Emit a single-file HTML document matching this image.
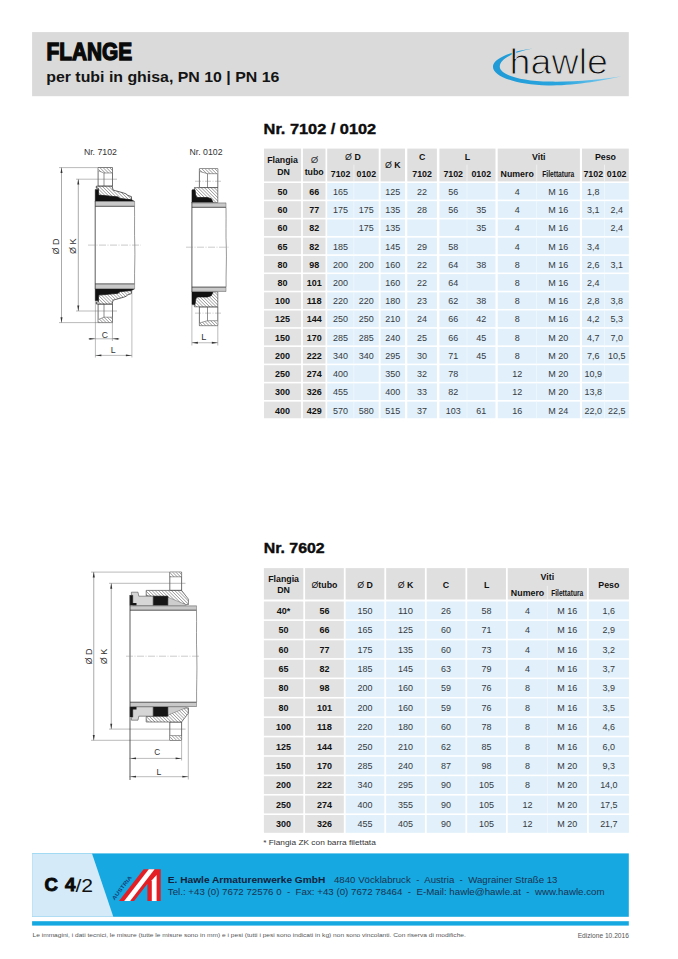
<!DOCTYPE html>
<html><head><meta charset="utf-8"><title>Flange</title>
<style>
html,body{margin:0;padding:0;background:#fff;}
body{width:678px;height:959px;overflow:hidden;position:relative;}
svg{position:absolute;left:0;top:0;display:block;}
text{font-family:"Liberation Sans", Arial, Helvetica, sans-serif;}
</style></head><body>
<svg width="678" height="959" viewBox="0 0 678 959">
<defs>
<linearGradient id="swg" x1="490" y1="0" x2="622" y2="0" gradientUnits="userSpaceOnUse"><stop offset="0" stop-color="#1f9ad6"/><stop offset="0.55" stop-color="#2aa5de"/><stop offset="1" stop-color="#8dd2f2"/></linearGradient>
<pattern id="hatch" patternUnits="userSpaceOnUse" width="2.3" height="2.3" patternTransform="rotate(-45)">
<rect width="2.3" height="2.3" fill="#fff"/><line x1="0.3" y1="0" x2="0.3" y2="2.3" stroke="#666" stroke-width="0.55"/></pattern>
<pattern id="hatchm" patternUnits="userSpaceOnUse" width="2.3" height="2.3" patternTransform="rotate(45)">
<rect width="2.3" height="2.3" fill="#fff"/><line x1="0.3" y1="0" x2="0.3" y2="2.3" stroke="#666" stroke-width="0.55"/></pattern>
<pattern id="hatchgm" patternUnits="userSpaceOnUse" width="2.2" height="2.2" patternTransform="rotate(45)">
<rect width="2.2" height="2.2" fill="#c8c8c8"/><line x1="0" y1="0" x2="0" y2="2.2" stroke="#8f8f8f" stroke-width="0.5"/></pattern>
<pattern id="hatchg" patternUnits="userSpaceOnUse" width="2.2" height="2.2" patternTransform="rotate(-45)">
<rect width="2.2" height="2.2" fill="#c8c8c8"/><line x1="0" y1="0" x2="0" y2="2.2" stroke="#8f8f8f" stroke-width="0.5"/></pattern>
</defs>
<rect x="32.10" y="32.10" width="596.70" height="64.10" fill="#dadada" />
<text x="46.50" y="60.30" font-size="24.7" fill="#0a0a0a" font-weight="bold" textLength="85.6" lengthAdjust="spacingAndGlyphs" stroke="#0a0a0a" stroke-width="1.4">FLANGE</text>
<text x="46.20" y="82.30" font-size="14.8" fill="#141414" font-weight="bold" textLength="233.2" lengthAdjust="spacingAndGlyphs">per tubi in ghisa, PN 10 | PN 16</text>
<path d="M533,48.6 C512,51 494,58 493,66 C492,76 515,84.8 548,85.4 C575,86 605,80 621.5,76.3 C603,79.5 576,82 550,81.6 C520,81 500.5,75 499.8,67 C499.2,59 514,52 533,48.6 Z" fill="url(#swg)"/>
<text x="509.60" y="73.60" font-size="34.4" fill="#111" textLength="98.4" lengthAdjust="spacingAndGlyphs" stroke="#dadada" stroke-width="1.0">hawle</text>
<text x="263.60" y="133.60" font-size="14.7" fill="#0d0d0d" font-weight="bold" textLength="112.6" lengthAdjust="spacingAndGlyphs" stroke="#0d0d0d" stroke-width="0.4">Nr. 7102 / 0102</text>
<text x="263.70" y="553.30" font-size="14.7" fill="#0d0d0d" font-weight="bold" textLength="61.0" lengthAdjust="spacingAndGlyphs" stroke="#0d0d0d" stroke-width="0.4">Nr. 7602</text>
<rect x="264.00" y="148.60" width="37.10" height="32.80" fill="#dfdfdf" />
<rect x="302.90" y="148.60" width="22.60" height="32.80" fill="#dfdfdf" />
<rect x="327.20" y="148.60" width="51.50" height="32.80" fill="#dfdfdf" />
<rect x="380.60" y="148.60" width="24.40" height="32.80" fill="#dfdfdf" />
<rect x="407.30" y="148.60" width="29.60" height="32.80" fill="#dfdfdf" />
<rect x="439.40" y="148.60" width="56.10" height="32.80" fill="#dfdfdf" />
<rect x="497.70" y="148.60" width="82.20" height="32.80" fill="#dfdfdf" />
<rect x="582.00" y="148.60" width="46.80" height="32.80" fill="#dfdfdf" />
<rect x="353.40" y="164.6" width="1" height="16.80" fill="#ffffff" fill-opacity="0.5"/>
<rect x="466.50" y="164.6" width="1" height="16.80" fill="#ffffff" fill-opacity="0.5"/>
<rect x="536.20" y="164.6" width="1" height="16.80" fill="#ffffff" fill-opacity="0.5"/>
<rect x="604.00" y="164.6" width="1" height="16.80" fill="#ffffff" fill-opacity="0.5"/>
<rect x="264.00" y="183.00" width="37.10" height="16.60" fill="#e2e2e2" />
<rect x="302.90" y="183.00" width="22.60" height="16.60" fill="#e2e2e2" />
<rect x="327.20" y="183.00" width="51.50" height="16.60" fill="#e1f0fb" />
<rect x="380.60" y="183.00" width="24.40" height="16.60" fill="#e1f0fb" />
<rect x="407.30" y="183.00" width="29.60" height="16.60" fill="#e1f0fb" />
<rect x="439.40" y="183.00" width="56.10" height="16.60" fill="#e1f0fb" />
<rect x="497.70" y="183.00" width="82.20" height="16.60" fill="#e1f0fb" />
<rect x="582.00" y="183.00" width="46.80" height="16.60" fill="#e1f0fb" />
<rect x="353.50" y="183.00" width="0.8" height="16.6" fill="#ffffff" fill-opacity="0.55"/>
<rect x="466.60" y="183.00" width="0.8" height="16.6" fill="#ffffff" fill-opacity="0.55"/>
<rect x="536.30" y="183.00" width="0.8" height="16.6" fill="#ffffff" fill-opacity="0.55"/>
<rect x="604.10" y="183.00" width="0.8" height="16.6" fill="#ffffff" fill-opacity="0.55"/>
<text x="282.55" y="194.90" font-size="9.4" fill="#111" font-weight="bold" text-anchor="middle" textLength="9.99" lengthAdjust="spacingAndGlyphs">50</text>
<text x="314.20" y="194.90" font-size="9.4" fill="#111" font-weight="bold" text-anchor="middle" textLength="9.99" lengthAdjust="spacingAndGlyphs">66</text>
<text x="340.55" y="194.90" font-size="9.4" fill="#353a40" text-anchor="middle" textLength="14.98" lengthAdjust="spacingAndGlyphs">165</text>
<text x="392.80" y="194.90" font-size="9.4" fill="#353a40" text-anchor="middle" textLength="14.98" lengthAdjust="spacingAndGlyphs">125</text>
<text x="422.10" y="194.90" font-size="9.4" fill="#353a40" text-anchor="middle" textLength="9.99" lengthAdjust="spacingAndGlyphs">22</text>
<text x="453.20" y="194.90" font-size="9.4" fill="#353a40" text-anchor="middle" textLength="9.99" lengthAdjust="spacingAndGlyphs">56</text>
<text x="517.20" y="194.90" font-size="9.4" fill="#353a40" text-anchor="middle" textLength="4.99" lengthAdjust="spacingAndGlyphs">4</text>
<text x="558.30" y="194.90" font-size="9.4" fill="#353a40" text-anchor="middle" textLength="19.96" lengthAdjust="spacingAndGlyphs">M 16</text>
<text x="593.25" y="194.90" font-size="9.4" fill="#353a40" text-anchor="middle" textLength="12.48" lengthAdjust="spacingAndGlyphs">1,8</text>
<rect x="264.00" y="201.22" width="37.10" height="16.60" fill="#e2e2e2" />
<rect x="302.90" y="201.22" width="22.60" height="16.60" fill="#e2e2e2" />
<rect x="327.20" y="201.22" width="51.50" height="16.60" fill="#e1f0fb" />
<rect x="380.60" y="201.22" width="24.40" height="16.60" fill="#e1f0fb" />
<rect x="407.30" y="201.22" width="29.60" height="16.60" fill="#e1f0fb" />
<rect x="439.40" y="201.22" width="56.10" height="16.60" fill="#e1f0fb" />
<rect x="497.70" y="201.22" width="82.20" height="16.60" fill="#e1f0fb" />
<rect x="582.00" y="201.22" width="46.80" height="16.60" fill="#e1f0fb" />
<rect x="353.50" y="201.22" width="0.8" height="16.6" fill="#ffffff" fill-opacity="0.55"/>
<rect x="466.60" y="201.22" width="0.8" height="16.6" fill="#ffffff" fill-opacity="0.55"/>
<rect x="536.30" y="201.22" width="0.8" height="16.6" fill="#ffffff" fill-opacity="0.55"/>
<rect x="604.10" y="201.22" width="0.8" height="16.6" fill="#ffffff" fill-opacity="0.55"/>
<text x="282.55" y="213.12" font-size="9.4" fill="#111" font-weight="bold" text-anchor="middle" textLength="9.99" lengthAdjust="spacingAndGlyphs">60</text>
<text x="314.20" y="213.12" font-size="9.4" fill="#111" font-weight="bold" text-anchor="middle" textLength="9.99" lengthAdjust="spacingAndGlyphs">77</text>
<text x="340.55" y="213.12" font-size="9.4" fill="#353a40" text-anchor="middle" textLength="14.98" lengthAdjust="spacingAndGlyphs">175</text>
<text x="366.30" y="213.12" font-size="9.4" fill="#353a40" text-anchor="middle" textLength="14.98" lengthAdjust="spacingAndGlyphs">175</text>
<text x="392.80" y="213.12" font-size="9.4" fill="#353a40" text-anchor="middle" textLength="14.98" lengthAdjust="spacingAndGlyphs">135</text>
<text x="422.10" y="213.12" font-size="9.4" fill="#353a40" text-anchor="middle" textLength="9.99" lengthAdjust="spacingAndGlyphs">28</text>
<text x="453.20" y="213.12" font-size="9.4" fill="#353a40" text-anchor="middle" textLength="9.99" lengthAdjust="spacingAndGlyphs">56</text>
<text x="481.25" y="213.12" font-size="9.4" fill="#353a40" text-anchor="middle" textLength="9.99" lengthAdjust="spacingAndGlyphs">35</text>
<text x="517.20" y="213.12" font-size="9.4" fill="#353a40" text-anchor="middle" textLength="4.99" lengthAdjust="spacingAndGlyphs">4</text>
<text x="558.30" y="213.12" font-size="9.4" fill="#353a40" text-anchor="middle" textLength="19.96" lengthAdjust="spacingAndGlyphs">M 16</text>
<text x="593.25" y="213.12" font-size="9.4" fill="#353a40" text-anchor="middle" textLength="12.48" lengthAdjust="spacingAndGlyphs">3,1</text>
<text x="616.65" y="213.12" font-size="9.4" fill="#353a40" text-anchor="middle" textLength="12.48" lengthAdjust="spacingAndGlyphs">2,4</text>
<rect x="264.00" y="219.44" width="37.10" height="16.60" fill="#e2e2e2" />
<rect x="302.90" y="219.44" width="22.60" height="16.60" fill="#e2e2e2" />
<rect x="327.20" y="219.44" width="51.50" height="16.60" fill="#e1f0fb" />
<rect x="380.60" y="219.44" width="24.40" height="16.60" fill="#e1f0fb" />
<rect x="407.30" y="219.44" width="29.60" height="16.60" fill="#e1f0fb" />
<rect x="439.40" y="219.44" width="56.10" height="16.60" fill="#e1f0fb" />
<rect x="497.70" y="219.44" width="82.20" height="16.60" fill="#e1f0fb" />
<rect x="582.00" y="219.44" width="46.80" height="16.60" fill="#e1f0fb" />
<rect x="353.50" y="219.44" width="0.8" height="16.6" fill="#ffffff" fill-opacity="0.55"/>
<rect x="466.60" y="219.44" width="0.8" height="16.6" fill="#ffffff" fill-opacity="0.55"/>
<rect x="536.30" y="219.44" width="0.8" height="16.6" fill="#ffffff" fill-opacity="0.55"/>
<rect x="604.10" y="219.44" width="0.8" height="16.6" fill="#ffffff" fill-opacity="0.55"/>
<text x="282.55" y="231.34" font-size="9.4" fill="#111" font-weight="bold" text-anchor="middle" textLength="9.99" lengthAdjust="spacingAndGlyphs">60</text>
<text x="314.20" y="231.34" font-size="9.4" fill="#111" font-weight="bold" text-anchor="middle" textLength="9.99" lengthAdjust="spacingAndGlyphs">82</text>
<text x="366.30" y="231.34" font-size="9.4" fill="#353a40" text-anchor="middle" textLength="14.98" lengthAdjust="spacingAndGlyphs">175</text>
<text x="392.80" y="231.34" font-size="9.4" fill="#353a40" text-anchor="middle" textLength="14.98" lengthAdjust="spacingAndGlyphs">135</text>
<text x="481.25" y="231.34" font-size="9.4" fill="#353a40" text-anchor="middle" textLength="9.99" lengthAdjust="spacingAndGlyphs">35</text>
<text x="517.20" y="231.34" font-size="9.4" fill="#353a40" text-anchor="middle" textLength="4.99" lengthAdjust="spacingAndGlyphs">4</text>
<text x="558.30" y="231.34" font-size="9.4" fill="#353a40" text-anchor="middle" textLength="19.96" lengthAdjust="spacingAndGlyphs">M 16</text>
<text x="616.65" y="231.34" font-size="9.4" fill="#353a40" text-anchor="middle" textLength="12.48" lengthAdjust="spacingAndGlyphs">2,4</text>
<rect x="264.00" y="237.66" width="37.10" height="16.60" fill="#e2e2e2" />
<rect x="302.90" y="237.66" width="22.60" height="16.60" fill="#e2e2e2" />
<rect x="327.20" y="237.66" width="51.50" height="16.60" fill="#e1f0fb" />
<rect x="380.60" y="237.66" width="24.40" height="16.60" fill="#e1f0fb" />
<rect x="407.30" y="237.66" width="29.60" height="16.60" fill="#e1f0fb" />
<rect x="439.40" y="237.66" width="56.10" height="16.60" fill="#e1f0fb" />
<rect x="497.70" y="237.66" width="82.20" height="16.60" fill="#e1f0fb" />
<rect x="582.00" y="237.66" width="46.80" height="16.60" fill="#e1f0fb" />
<rect x="353.50" y="237.66" width="0.8" height="16.6" fill="#ffffff" fill-opacity="0.55"/>
<rect x="466.60" y="237.66" width="0.8" height="16.6" fill="#ffffff" fill-opacity="0.55"/>
<rect x="536.30" y="237.66" width="0.8" height="16.6" fill="#ffffff" fill-opacity="0.55"/>
<rect x="604.10" y="237.66" width="0.8" height="16.6" fill="#ffffff" fill-opacity="0.55"/>
<text x="282.55" y="249.56" font-size="9.4" fill="#111" font-weight="bold" text-anchor="middle" textLength="9.99" lengthAdjust="spacingAndGlyphs">65</text>
<text x="314.20" y="249.56" font-size="9.4" fill="#111" font-weight="bold" text-anchor="middle" textLength="9.99" lengthAdjust="spacingAndGlyphs">82</text>
<text x="340.55" y="249.56" font-size="9.4" fill="#353a40" text-anchor="middle" textLength="14.98" lengthAdjust="spacingAndGlyphs">185</text>
<text x="392.80" y="249.56" font-size="9.4" fill="#353a40" text-anchor="middle" textLength="14.98" lengthAdjust="spacingAndGlyphs">145</text>
<text x="422.10" y="249.56" font-size="9.4" fill="#353a40" text-anchor="middle" textLength="9.99" lengthAdjust="spacingAndGlyphs">29</text>
<text x="453.20" y="249.56" font-size="9.4" fill="#353a40" text-anchor="middle" textLength="9.99" lengthAdjust="spacingAndGlyphs">58</text>
<text x="517.20" y="249.56" font-size="9.4" fill="#353a40" text-anchor="middle" textLength="4.99" lengthAdjust="spacingAndGlyphs">4</text>
<text x="558.30" y="249.56" font-size="9.4" fill="#353a40" text-anchor="middle" textLength="19.96" lengthAdjust="spacingAndGlyphs">M 16</text>
<text x="593.25" y="249.56" font-size="9.4" fill="#353a40" text-anchor="middle" textLength="12.48" lengthAdjust="spacingAndGlyphs">3,4</text>
<rect x="264.00" y="255.88" width="37.10" height="16.60" fill="#e2e2e2" />
<rect x="302.90" y="255.88" width="22.60" height="16.60" fill="#e2e2e2" />
<rect x="327.20" y="255.88" width="51.50" height="16.60" fill="#e1f0fb" />
<rect x="380.60" y="255.88" width="24.40" height="16.60" fill="#e1f0fb" />
<rect x="407.30" y="255.88" width="29.60" height="16.60" fill="#e1f0fb" />
<rect x="439.40" y="255.88" width="56.10" height="16.60" fill="#e1f0fb" />
<rect x="497.70" y="255.88" width="82.20" height="16.60" fill="#e1f0fb" />
<rect x="582.00" y="255.88" width="46.80" height="16.60" fill="#e1f0fb" />
<rect x="353.50" y="255.88" width="0.8" height="16.6" fill="#ffffff" fill-opacity="0.55"/>
<rect x="466.60" y="255.88" width="0.8" height="16.6" fill="#ffffff" fill-opacity="0.55"/>
<rect x="536.30" y="255.88" width="0.8" height="16.6" fill="#ffffff" fill-opacity="0.55"/>
<rect x="604.10" y="255.88" width="0.8" height="16.6" fill="#ffffff" fill-opacity="0.55"/>
<text x="282.55" y="267.78" font-size="9.4" fill="#111" font-weight="bold" text-anchor="middle" textLength="9.99" lengthAdjust="spacingAndGlyphs">80</text>
<text x="314.20" y="267.78" font-size="9.4" fill="#111" font-weight="bold" text-anchor="middle" textLength="9.99" lengthAdjust="spacingAndGlyphs">98</text>
<text x="340.55" y="267.78" font-size="9.4" fill="#353a40" text-anchor="middle" textLength="14.98" lengthAdjust="spacingAndGlyphs">200</text>
<text x="366.30" y="267.78" font-size="9.4" fill="#353a40" text-anchor="middle" textLength="14.98" lengthAdjust="spacingAndGlyphs">200</text>
<text x="392.80" y="267.78" font-size="9.4" fill="#353a40" text-anchor="middle" textLength="14.98" lengthAdjust="spacingAndGlyphs">160</text>
<text x="422.10" y="267.78" font-size="9.4" fill="#353a40" text-anchor="middle" textLength="9.99" lengthAdjust="spacingAndGlyphs">22</text>
<text x="453.20" y="267.78" font-size="9.4" fill="#353a40" text-anchor="middle" textLength="9.99" lengthAdjust="spacingAndGlyphs">64</text>
<text x="481.25" y="267.78" font-size="9.4" fill="#353a40" text-anchor="middle" textLength="9.99" lengthAdjust="spacingAndGlyphs">38</text>
<text x="517.20" y="267.78" font-size="9.4" fill="#353a40" text-anchor="middle" textLength="4.99" lengthAdjust="spacingAndGlyphs">8</text>
<text x="558.30" y="267.78" font-size="9.4" fill="#353a40" text-anchor="middle" textLength="19.96" lengthAdjust="spacingAndGlyphs">M 16</text>
<text x="593.25" y="267.78" font-size="9.4" fill="#353a40" text-anchor="middle" textLength="12.48" lengthAdjust="spacingAndGlyphs">2,6</text>
<text x="616.65" y="267.78" font-size="9.4" fill="#353a40" text-anchor="middle" textLength="12.48" lengthAdjust="spacingAndGlyphs">3,1</text>
<rect x="264.00" y="274.10" width="37.10" height="16.60" fill="#e2e2e2" />
<rect x="302.90" y="274.10" width="22.60" height="16.60" fill="#e2e2e2" />
<rect x="327.20" y="274.10" width="51.50" height="16.60" fill="#e1f0fb" />
<rect x="380.60" y="274.10" width="24.40" height="16.60" fill="#e1f0fb" />
<rect x="407.30" y="274.10" width="29.60" height="16.60" fill="#e1f0fb" />
<rect x="439.40" y="274.10" width="56.10" height="16.60" fill="#e1f0fb" />
<rect x="497.70" y="274.10" width="82.20" height="16.60" fill="#e1f0fb" />
<rect x="582.00" y="274.10" width="46.80" height="16.60" fill="#e1f0fb" />
<rect x="353.50" y="274.10" width="0.8" height="16.6" fill="#ffffff" fill-opacity="0.55"/>
<rect x="466.60" y="274.10" width="0.8" height="16.6" fill="#ffffff" fill-opacity="0.55"/>
<rect x="536.30" y="274.10" width="0.8" height="16.6" fill="#ffffff" fill-opacity="0.55"/>
<rect x="604.10" y="274.10" width="0.8" height="16.6" fill="#ffffff" fill-opacity="0.55"/>
<text x="282.55" y="286.00" font-size="9.4" fill="#111" font-weight="bold" text-anchor="middle" textLength="9.99" lengthAdjust="spacingAndGlyphs">80</text>
<text x="314.20" y="286.00" font-size="9.4" fill="#111" font-weight="bold" text-anchor="middle" textLength="14.98" lengthAdjust="spacingAndGlyphs">101</text>
<text x="340.55" y="286.00" font-size="9.4" fill="#353a40" text-anchor="middle" textLength="14.98" lengthAdjust="spacingAndGlyphs">200</text>
<text x="392.80" y="286.00" font-size="9.4" fill="#353a40" text-anchor="middle" textLength="14.98" lengthAdjust="spacingAndGlyphs">160</text>
<text x="422.10" y="286.00" font-size="9.4" fill="#353a40" text-anchor="middle" textLength="9.99" lengthAdjust="spacingAndGlyphs">22</text>
<text x="453.20" y="286.00" font-size="9.4" fill="#353a40" text-anchor="middle" textLength="9.99" lengthAdjust="spacingAndGlyphs">64</text>
<text x="517.20" y="286.00" font-size="9.4" fill="#353a40" text-anchor="middle" textLength="4.99" lengthAdjust="spacingAndGlyphs">8</text>
<text x="558.30" y="286.00" font-size="9.4" fill="#353a40" text-anchor="middle" textLength="19.96" lengthAdjust="spacingAndGlyphs">M 16</text>
<text x="593.25" y="286.00" font-size="9.4" fill="#353a40" text-anchor="middle" textLength="12.48" lengthAdjust="spacingAndGlyphs">2,4</text>
<rect x="264.00" y="292.32" width="37.10" height="16.60" fill="#e2e2e2" />
<rect x="302.90" y="292.32" width="22.60" height="16.60" fill="#e2e2e2" />
<rect x="327.20" y="292.32" width="51.50" height="16.60" fill="#e1f0fb" />
<rect x="380.60" y="292.32" width="24.40" height="16.60" fill="#e1f0fb" />
<rect x="407.30" y="292.32" width="29.60" height="16.60" fill="#e1f0fb" />
<rect x="439.40" y="292.32" width="56.10" height="16.60" fill="#e1f0fb" />
<rect x="497.70" y="292.32" width="82.20" height="16.60" fill="#e1f0fb" />
<rect x="582.00" y="292.32" width="46.80" height="16.60" fill="#e1f0fb" />
<rect x="353.50" y="292.32" width="0.8" height="16.6" fill="#ffffff" fill-opacity="0.55"/>
<rect x="466.60" y="292.32" width="0.8" height="16.6" fill="#ffffff" fill-opacity="0.55"/>
<rect x="536.30" y="292.32" width="0.8" height="16.6" fill="#ffffff" fill-opacity="0.55"/>
<rect x="604.10" y="292.32" width="0.8" height="16.6" fill="#ffffff" fill-opacity="0.55"/>
<text x="282.55" y="304.22" font-size="9.4" fill="#111" font-weight="bold" text-anchor="middle" textLength="14.98" lengthAdjust="spacingAndGlyphs">100</text>
<text x="314.20" y="304.22" font-size="9.4" fill="#111" font-weight="bold" text-anchor="middle" textLength="14.98" lengthAdjust="spacingAndGlyphs">118</text>
<text x="340.55" y="304.22" font-size="9.4" fill="#353a40" text-anchor="middle" textLength="14.98" lengthAdjust="spacingAndGlyphs">220</text>
<text x="366.30" y="304.22" font-size="9.4" fill="#353a40" text-anchor="middle" textLength="14.98" lengthAdjust="spacingAndGlyphs">220</text>
<text x="392.80" y="304.22" font-size="9.4" fill="#353a40" text-anchor="middle" textLength="14.98" lengthAdjust="spacingAndGlyphs">180</text>
<text x="422.10" y="304.22" font-size="9.4" fill="#353a40" text-anchor="middle" textLength="9.99" lengthAdjust="spacingAndGlyphs">23</text>
<text x="453.20" y="304.22" font-size="9.4" fill="#353a40" text-anchor="middle" textLength="9.99" lengthAdjust="spacingAndGlyphs">62</text>
<text x="481.25" y="304.22" font-size="9.4" fill="#353a40" text-anchor="middle" textLength="9.99" lengthAdjust="spacingAndGlyphs">38</text>
<text x="517.20" y="304.22" font-size="9.4" fill="#353a40" text-anchor="middle" textLength="4.99" lengthAdjust="spacingAndGlyphs">8</text>
<text x="558.30" y="304.22" font-size="9.4" fill="#353a40" text-anchor="middle" textLength="19.96" lengthAdjust="spacingAndGlyphs">M 16</text>
<text x="593.25" y="304.22" font-size="9.4" fill="#353a40" text-anchor="middle" textLength="12.48" lengthAdjust="spacingAndGlyphs">2,8</text>
<text x="616.65" y="304.22" font-size="9.4" fill="#353a40" text-anchor="middle" textLength="12.48" lengthAdjust="spacingAndGlyphs">3,8</text>
<rect x="264.00" y="310.54" width="37.10" height="16.60" fill="#e2e2e2" />
<rect x="302.90" y="310.54" width="22.60" height="16.60" fill="#e2e2e2" />
<rect x="327.20" y="310.54" width="51.50" height="16.60" fill="#e1f0fb" />
<rect x="380.60" y="310.54" width="24.40" height="16.60" fill="#e1f0fb" />
<rect x="407.30" y="310.54" width="29.60" height="16.60" fill="#e1f0fb" />
<rect x="439.40" y="310.54" width="56.10" height="16.60" fill="#e1f0fb" />
<rect x="497.70" y="310.54" width="82.20" height="16.60" fill="#e1f0fb" />
<rect x="582.00" y="310.54" width="46.80" height="16.60" fill="#e1f0fb" />
<rect x="353.50" y="310.54" width="0.8" height="16.6" fill="#ffffff" fill-opacity="0.55"/>
<rect x="466.60" y="310.54" width="0.8" height="16.6" fill="#ffffff" fill-opacity="0.55"/>
<rect x="536.30" y="310.54" width="0.8" height="16.6" fill="#ffffff" fill-opacity="0.55"/>
<rect x="604.10" y="310.54" width="0.8" height="16.6" fill="#ffffff" fill-opacity="0.55"/>
<text x="282.55" y="322.44" font-size="9.4" fill="#111" font-weight="bold" text-anchor="middle" textLength="14.98" lengthAdjust="spacingAndGlyphs">125</text>
<text x="314.20" y="322.44" font-size="9.4" fill="#111" font-weight="bold" text-anchor="middle" textLength="14.98" lengthAdjust="spacingAndGlyphs">144</text>
<text x="340.55" y="322.44" font-size="9.4" fill="#353a40" text-anchor="middle" textLength="14.98" lengthAdjust="spacingAndGlyphs">250</text>
<text x="366.30" y="322.44" font-size="9.4" fill="#353a40" text-anchor="middle" textLength="14.98" lengthAdjust="spacingAndGlyphs">250</text>
<text x="392.80" y="322.44" font-size="9.4" fill="#353a40" text-anchor="middle" textLength="14.98" lengthAdjust="spacingAndGlyphs">210</text>
<text x="422.10" y="322.44" font-size="9.4" fill="#353a40" text-anchor="middle" textLength="9.99" lengthAdjust="spacingAndGlyphs">24</text>
<text x="453.20" y="322.44" font-size="9.4" fill="#353a40" text-anchor="middle" textLength="9.99" lengthAdjust="spacingAndGlyphs">66</text>
<text x="481.25" y="322.44" font-size="9.4" fill="#353a40" text-anchor="middle" textLength="9.99" lengthAdjust="spacingAndGlyphs">42</text>
<text x="517.20" y="322.44" font-size="9.4" fill="#353a40" text-anchor="middle" textLength="4.99" lengthAdjust="spacingAndGlyphs">8</text>
<text x="558.30" y="322.44" font-size="9.4" fill="#353a40" text-anchor="middle" textLength="19.96" lengthAdjust="spacingAndGlyphs">M 16</text>
<text x="593.25" y="322.44" font-size="9.4" fill="#353a40" text-anchor="middle" textLength="12.48" lengthAdjust="spacingAndGlyphs">4,2</text>
<text x="616.65" y="322.44" font-size="9.4" fill="#353a40" text-anchor="middle" textLength="12.48" lengthAdjust="spacingAndGlyphs">5,3</text>
<rect x="264.00" y="328.76" width="37.10" height="16.60" fill="#e2e2e2" />
<rect x="302.90" y="328.76" width="22.60" height="16.60" fill="#e2e2e2" />
<rect x="327.20" y="328.76" width="51.50" height="16.60" fill="#e1f0fb" />
<rect x="380.60" y="328.76" width="24.40" height="16.60" fill="#e1f0fb" />
<rect x="407.30" y="328.76" width="29.60" height="16.60" fill="#e1f0fb" />
<rect x="439.40" y="328.76" width="56.10" height="16.60" fill="#e1f0fb" />
<rect x="497.70" y="328.76" width="82.20" height="16.60" fill="#e1f0fb" />
<rect x="582.00" y="328.76" width="46.80" height="16.60" fill="#e1f0fb" />
<rect x="353.50" y="328.76" width="0.8" height="16.6" fill="#ffffff" fill-opacity="0.55"/>
<rect x="466.60" y="328.76" width="0.8" height="16.6" fill="#ffffff" fill-opacity="0.55"/>
<rect x="536.30" y="328.76" width="0.8" height="16.6" fill="#ffffff" fill-opacity="0.55"/>
<rect x="604.10" y="328.76" width="0.8" height="16.6" fill="#ffffff" fill-opacity="0.55"/>
<text x="282.55" y="340.66" font-size="9.4" fill="#111" font-weight="bold" text-anchor="middle" textLength="14.98" lengthAdjust="spacingAndGlyphs">150</text>
<text x="314.20" y="340.66" font-size="9.4" fill="#111" font-weight="bold" text-anchor="middle" textLength="14.98" lengthAdjust="spacingAndGlyphs">170</text>
<text x="340.55" y="340.66" font-size="9.4" fill="#353a40" text-anchor="middle" textLength="14.98" lengthAdjust="spacingAndGlyphs">285</text>
<text x="366.30" y="340.66" font-size="9.4" fill="#353a40" text-anchor="middle" textLength="14.98" lengthAdjust="spacingAndGlyphs">285</text>
<text x="392.80" y="340.66" font-size="9.4" fill="#353a40" text-anchor="middle" textLength="14.98" lengthAdjust="spacingAndGlyphs">240</text>
<text x="422.10" y="340.66" font-size="9.4" fill="#353a40" text-anchor="middle" textLength="9.99" lengthAdjust="spacingAndGlyphs">25</text>
<text x="453.20" y="340.66" font-size="9.4" fill="#353a40" text-anchor="middle" textLength="9.99" lengthAdjust="spacingAndGlyphs">66</text>
<text x="481.25" y="340.66" font-size="9.4" fill="#353a40" text-anchor="middle" textLength="9.99" lengthAdjust="spacingAndGlyphs">45</text>
<text x="517.20" y="340.66" font-size="9.4" fill="#353a40" text-anchor="middle" textLength="4.99" lengthAdjust="spacingAndGlyphs">8</text>
<text x="558.30" y="340.66" font-size="9.4" fill="#353a40" text-anchor="middle" textLength="19.96" lengthAdjust="spacingAndGlyphs">M 20</text>
<text x="593.25" y="340.66" font-size="9.4" fill="#353a40" text-anchor="middle" textLength="12.48" lengthAdjust="spacingAndGlyphs">4,7</text>
<text x="616.65" y="340.66" font-size="9.4" fill="#353a40" text-anchor="middle" textLength="12.48" lengthAdjust="spacingAndGlyphs">7,0</text>
<rect x="264.00" y="346.98" width="37.10" height="16.60" fill="#e2e2e2" />
<rect x="302.90" y="346.98" width="22.60" height="16.60" fill="#e2e2e2" />
<rect x="327.20" y="346.98" width="51.50" height="16.60" fill="#e1f0fb" />
<rect x="380.60" y="346.98" width="24.40" height="16.60" fill="#e1f0fb" />
<rect x="407.30" y="346.98" width="29.60" height="16.60" fill="#e1f0fb" />
<rect x="439.40" y="346.98" width="56.10" height="16.60" fill="#e1f0fb" />
<rect x="497.70" y="346.98" width="82.20" height="16.60" fill="#e1f0fb" />
<rect x="582.00" y="346.98" width="46.80" height="16.60" fill="#e1f0fb" />
<rect x="353.50" y="346.98" width="0.8" height="16.6" fill="#ffffff" fill-opacity="0.55"/>
<rect x="466.60" y="346.98" width="0.8" height="16.6" fill="#ffffff" fill-opacity="0.55"/>
<rect x="536.30" y="346.98" width="0.8" height="16.6" fill="#ffffff" fill-opacity="0.55"/>
<rect x="604.10" y="346.98" width="0.8" height="16.6" fill="#ffffff" fill-opacity="0.55"/>
<text x="282.55" y="358.88" font-size="9.4" fill="#111" font-weight="bold" text-anchor="middle" textLength="14.98" lengthAdjust="spacingAndGlyphs">200</text>
<text x="314.20" y="358.88" font-size="9.4" fill="#111" font-weight="bold" text-anchor="middle" textLength="14.98" lengthAdjust="spacingAndGlyphs">222</text>
<text x="340.55" y="358.88" font-size="9.4" fill="#353a40" text-anchor="middle" textLength="14.98" lengthAdjust="spacingAndGlyphs">340</text>
<text x="366.30" y="358.88" font-size="9.4" fill="#353a40" text-anchor="middle" textLength="14.98" lengthAdjust="spacingAndGlyphs">340</text>
<text x="392.80" y="358.88" font-size="9.4" fill="#353a40" text-anchor="middle" textLength="14.98" lengthAdjust="spacingAndGlyphs">295</text>
<text x="422.10" y="358.88" font-size="9.4" fill="#353a40" text-anchor="middle" textLength="9.99" lengthAdjust="spacingAndGlyphs">30</text>
<text x="453.20" y="358.88" font-size="9.4" fill="#353a40" text-anchor="middle" textLength="9.99" lengthAdjust="spacingAndGlyphs">71</text>
<text x="481.25" y="358.88" font-size="9.4" fill="#353a40" text-anchor="middle" textLength="9.99" lengthAdjust="spacingAndGlyphs">45</text>
<text x="517.20" y="358.88" font-size="9.4" fill="#353a40" text-anchor="middle" textLength="4.99" lengthAdjust="spacingAndGlyphs">8</text>
<text x="558.30" y="358.88" font-size="9.4" fill="#353a40" text-anchor="middle" textLength="19.96" lengthAdjust="spacingAndGlyphs">M 20</text>
<text x="593.25" y="358.88" font-size="9.4" fill="#353a40" text-anchor="middle" textLength="12.48" lengthAdjust="spacingAndGlyphs">7,6</text>
<text x="616.65" y="358.88" font-size="9.4" fill="#353a40" text-anchor="middle" textLength="17.47" lengthAdjust="spacingAndGlyphs">10,5</text>
<rect x="264.00" y="365.20" width="37.10" height="16.60" fill="#e2e2e2" />
<rect x="302.90" y="365.20" width="22.60" height="16.60" fill="#e2e2e2" />
<rect x="327.20" y="365.20" width="51.50" height="16.60" fill="#e1f0fb" />
<rect x="380.60" y="365.20" width="24.40" height="16.60" fill="#e1f0fb" />
<rect x="407.30" y="365.20" width="29.60" height="16.60" fill="#e1f0fb" />
<rect x="439.40" y="365.20" width="56.10" height="16.60" fill="#e1f0fb" />
<rect x="497.70" y="365.20" width="82.20" height="16.60" fill="#e1f0fb" />
<rect x="582.00" y="365.20" width="46.80" height="16.60" fill="#e1f0fb" />
<rect x="353.50" y="365.20" width="0.8" height="16.6" fill="#ffffff" fill-opacity="0.55"/>
<rect x="466.60" y="365.20" width="0.8" height="16.6" fill="#ffffff" fill-opacity="0.55"/>
<rect x="536.30" y="365.20" width="0.8" height="16.6" fill="#ffffff" fill-opacity="0.55"/>
<rect x="604.10" y="365.20" width="0.8" height="16.6" fill="#ffffff" fill-opacity="0.55"/>
<text x="282.55" y="377.10" font-size="9.4" fill="#111" font-weight="bold" text-anchor="middle" textLength="14.98" lengthAdjust="spacingAndGlyphs">250</text>
<text x="314.20" y="377.10" font-size="9.4" fill="#111" font-weight="bold" text-anchor="middle" textLength="14.98" lengthAdjust="spacingAndGlyphs">274</text>
<text x="340.55" y="377.10" font-size="9.4" fill="#353a40" text-anchor="middle" textLength="14.98" lengthAdjust="spacingAndGlyphs">400</text>
<text x="392.80" y="377.10" font-size="9.4" fill="#353a40" text-anchor="middle" textLength="14.98" lengthAdjust="spacingAndGlyphs">350</text>
<text x="422.10" y="377.10" font-size="9.4" fill="#353a40" text-anchor="middle" textLength="9.99" lengthAdjust="spacingAndGlyphs">32</text>
<text x="453.20" y="377.10" font-size="9.4" fill="#353a40" text-anchor="middle" textLength="9.99" lengthAdjust="spacingAndGlyphs">78</text>
<text x="517.20" y="377.10" font-size="9.4" fill="#353a40" text-anchor="middle" textLength="9.99" lengthAdjust="spacingAndGlyphs">12</text>
<text x="558.30" y="377.10" font-size="9.4" fill="#353a40" text-anchor="middle" textLength="19.96" lengthAdjust="spacingAndGlyphs">M 20</text>
<text x="593.25" y="377.10" font-size="9.4" fill="#353a40" text-anchor="middle" textLength="17.47" lengthAdjust="spacingAndGlyphs">10,9</text>
<rect x="264.00" y="383.42" width="37.10" height="16.60" fill="#e2e2e2" />
<rect x="302.90" y="383.42" width="22.60" height="16.60" fill="#e2e2e2" />
<rect x="327.20" y="383.42" width="51.50" height="16.60" fill="#e1f0fb" />
<rect x="380.60" y="383.42" width="24.40" height="16.60" fill="#e1f0fb" />
<rect x="407.30" y="383.42" width="29.60" height="16.60" fill="#e1f0fb" />
<rect x="439.40" y="383.42" width="56.10" height="16.60" fill="#e1f0fb" />
<rect x="497.70" y="383.42" width="82.20" height="16.60" fill="#e1f0fb" />
<rect x="582.00" y="383.42" width="46.80" height="16.60" fill="#e1f0fb" />
<rect x="353.50" y="383.42" width="0.8" height="16.6" fill="#ffffff" fill-opacity="0.55"/>
<rect x="466.60" y="383.42" width="0.8" height="16.6" fill="#ffffff" fill-opacity="0.55"/>
<rect x="536.30" y="383.42" width="0.8" height="16.6" fill="#ffffff" fill-opacity="0.55"/>
<rect x="604.10" y="383.42" width="0.8" height="16.6" fill="#ffffff" fill-opacity="0.55"/>
<text x="282.55" y="395.32" font-size="9.4" fill="#111" font-weight="bold" text-anchor="middle" textLength="14.98" lengthAdjust="spacingAndGlyphs">300</text>
<text x="314.20" y="395.32" font-size="9.4" fill="#111" font-weight="bold" text-anchor="middle" textLength="14.98" lengthAdjust="spacingAndGlyphs">326</text>
<text x="340.55" y="395.32" font-size="9.4" fill="#353a40" text-anchor="middle" textLength="14.98" lengthAdjust="spacingAndGlyphs">455</text>
<text x="392.80" y="395.32" font-size="9.4" fill="#353a40" text-anchor="middle" textLength="14.98" lengthAdjust="spacingAndGlyphs">400</text>
<text x="422.10" y="395.32" font-size="9.4" fill="#353a40" text-anchor="middle" textLength="9.99" lengthAdjust="spacingAndGlyphs">33</text>
<text x="453.20" y="395.32" font-size="9.4" fill="#353a40" text-anchor="middle" textLength="9.99" lengthAdjust="spacingAndGlyphs">82</text>
<text x="517.20" y="395.32" font-size="9.4" fill="#353a40" text-anchor="middle" textLength="9.99" lengthAdjust="spacingAndGlyphs">12</text>
<text x="558.30" y="395.32" font-size="9.4" fill="#353a40" text-anchor="middle" textLength="19.96" lengthAdjust="spacingAndGlyphs">M 20</text>
<text x="593.25" y="395.32" font-size="9.4" fill="#353a40" text-anchor="middle" textLength="17.47" lengthAdjust="spacingAndGlyphs">13,8</text>
<rect x="264.00" y="401.64" width="37.10" height="16.60" fill="#e2e2e2" />
<rect x="302.90" y="401.64" width="22.60" height="16.60" fill="#e2e2e2" />
<rect x="327.20" y="401.64" width="51.50" height="16.60" fill="#e1f0fb" />
<rect x="380.60" y="401.64" width="24.40" height="16.60" fill="#e1f0fb" />
<rect x="407.30" y="401.64" width="29.60" height="16.60" fill="#e1f0fb" />
<rect x="439.40" y="401.64" width="56.10" height="16.60" fill="#e1f0fb" />
<rect x="497.70" y="401.64" width="82.20" height="16.60" fill="#e1f0fb" />
<rect x="582.00" y="401.64" width="46.80" height="16.60" fill="#e1f0fb" />
<rect x="353.50" y="401.64" width="0.8" height="16.6" fill="#ffffff" fill-opacity="0.55"/>
<rect x="466.60" y="401.64" width="0.8" height="16.6" fill="#ffffff" fill-opacity="0.55"/>
<rect x="536.30" y="401.64" width="0.8" height="16.6" fill="#ffffff" fill-opacity="0.55"/>
<rect x="604.10" y="401.64" width="0.8" height="16.6" fill="#ffffff" fill-opacity="0.55"/>
<text x="282.55" y="413.54" font-size="9.4" fill="#111" font-weight="bold" text-anchor="middle" textLength="14.98" lengthAdjust="spacingAndGlyphs">400</text>
<text x="314.20" y="413.54" font-size="9.4" fill="#111" font-weight="bold" text-anchor="middle" textLength="14.98" lengthAdjust="spacingAndGlyphs">429</text>
<text x="340.55" y="413.54" font-size="9.4" fill="#353a40" text-anchor="middle" textLength="14.98" lengthAdjust="spacingAndGlyphs">570</text>
<text x="366.30" y="413.54" font-size="9.4" fill="#353a40" text-anchor="middle" textLength="14.98" lengthAdjust="spacingAndGlyphs">580</text>
<text x="392.80" y="413.54" font-size="9.4" fill="#353a40" text-anchor="middle" textLength="14.98" lengthAdjust="spacingAndGlyphs">515</text>
<text x="422.10" y="413.54" font-size="9.4" fill="#353a40" text-anchor="middle" textLength="9.99" lengthAdjust="spacingAndGlyphs">37</text>
<text x="453.20" y="413.54" font-size="9.4" fill="#353a40" text-anchor="middle" textLength="14.98" lengthAdjust="spacingAndGlyphs">103</text>
<text x="481.25" y="413.54" font-size="9.4" fill="#353a40" text-anchor="middle" textLength="9.99" lengthAdjust="spacingAndGlyphs">61</text>
<text x="517.20" y="413.54" font-size="9.4" fill="#353a40" text-anchor="middle" textLength="9.99" lengthAdjust="spacingAndGlyphs">16</text>
<text x="558.30" y="413.54" font-size="9.4" fill="#353a40" text-anchor="middle" textLength="19.96" lengthAdjust="spacingAndGlyphs">M 24</text>
<text x="593.25" y="413.54" font-size="9.4" fill="#353a40" text-anchor="middle" textLength="17.47" lengthAdjust="spacingAndGlyphs">22,0</text>
<text x="616.65" y="413.54" font-size="9.4" fill="#353a40" text-anchor="middle" textLength="17.47" lengthAdjust="spacingAndGlyphs">22,5</text>
<text x="282.55" y="162.90" font-size="8.8" fill="#111" font-weight="bold" text-anchor="middle">Flangia</text>
<text x="283.55" y="174.50" font-size="8.8" fill="#111" font-weight="bold" text-anchor="middle">DN</text>
<text x="314.40" y="162.80" font-size="9.6" fill="#333" text-anchor="middle">Ø</text>
<text x="314.20" y="174.60" font-size="8.8" fill="#111" font-weight="bold" text-anchor="middle">tubo</text>
<text x="352.95" y="159.70" font-size="8.8" fill="#111" font-weight="bold" text-anchor="middle"><tspan font-weight="normal">Ø</tspan> D</text>
<text x="392.80" y="168.20" font-size="8.8" fill="#111" font-weight="bold" text-anchor="middle"><tspan font-weight="normal">Ø</tspan> K</text>
<text x="422.10" y="159.70" font-size="8.8" fill="#111" font-weight="bold" text-anchor="middle">C</text>
<text x="467.45" y="159.70" font-size="8.8" fill="#111" font-weight="bold" text-anchor="middle">L</text>
<text x="538.80" y="159.70" font-size="8.8" fill="#111" font-weight="bold" text-anchor="middle">Viti</text>
<text x="605.40" y="159.70" font-size="8.8" fill="#111" font-weight="bold" text-anchor="middle">Peso</text>
<text x="340.55" y="176.80" font-size="9.3" fill="#111" font-weight="bold" text-anchor="middle" textLength="19.6" lengthAdjust="spacingAndGlyphs">7102</text>
<text x="366.30" y="176.80" font-size="9.3" fill="#111" font-weight="bold" text-anchor="middle" textLength="19.6" lengthAdjust="spacingAndGlyphs">0102</text>
<text x="422.10" y="176.80" font-size="9.3" fill="#111" font-weight="bold" text-anchor="middle" textLength="19.6" lengthAdjust="spacingAndGlyphs">7102</text>
<text x="453.20" y="176.80" font-size="9.3" fill="#111" font-weight="bold" text-anchor="middle" textLength="19.6" lengthAdjust="spacingAndGlyphs">7102</text>
<text x="481.25" y="176.80" font-size="9.3" fill="#111" font-weight="bold" text-anchor="middle" textLength="19.6" lengthAdjust="spacingAndGlyphs">0102</text>
<text x="593.25" y="176.80" font-size="9.3" fill="#111" font-weight="bold" text-anchor="middle" textLength="19.6" lengthAdjust="spacingAndGlyphs">7102</text>
<text x="616.65" y="176.80" font-size="9.3" fill="#111" font-weight="bold" text-anchor="middle" textLength="19.6" lengthAdjust="spacingAndGlyphs">0102</text>
<text x="517.20" y="176.70" font-size="8.8" fill="#111" font-weight="bold" text-anchor="middle" textLength="33.2" lengthAdjust="spacingAndGlyphs">Numero</text>
<text x="558.30" y="176.50" font-size="8.2" fill="#111" font-weight="bold" text-anchor="middle" textLength="32" lengthAdjust="spacingAndGlyphs">Filettatura</text>
<rect x="263.90" y="568.10" width="39.40" height="31.40" fill="#dfdfdf" />
<rect x="305.10" y="568.10" width="38.73" height="31.40" fill="#dfdfdf" />
<rect x="345.63" y="568.10" width="38.73" height="31.40" fill="#dfdfdf" />
<rect x="386.16" y="568.10" width="38.73" height="31.40" fill="#dfdfdf" />
<rect x="426.69" y="568.10" width="38.73" height="31.40" fill="#dfdfdf" />
<rect x="467.22" y="568.10" width="38.73" height="31.40" fill="#dfdfdf" />
<rect x="507.75" y="568.10" width="79.26" height="31.40" fill="#dfdfdf" />
<rect x="588.81" y="568.10" width="40.09" height="31.40" fill="#dfdfdf" />
<rect x="546.88" y="585.8" width="1" height="13.70" fill="#ffffff" fill-opacity="0.5"/>
<rect x="263.90" y="601.50" width="39.40" height="17.80" fill="#e2e2e2" />
<rect x="305.10" y="601.50" width="38.73" height="17.80" fill="#e2e2e2" />
<rect x="345.63" y="601.50" width="38.73" height="17.80" fill="#e1f0fb" />
<rect x="386.16" y="601.50" width="38.73" height="17.80" fill="#e1f0fb" />
<rect x="426.69" y="601.50" width="38.73" height="17.80" fill="#e1f0fb" />
<rect x="467.22" y="601.50" width="38.73" height="17.80" fill="#e1f0fb" />
<rect x="507.75" y="601.50" width="79.26" height="17.80" fill="#e1f0fb" />
<rect x="588.81" y="601.50" width="40.09" height="17.80" fill="#e1f0fb" />
<rect x="546.98" y="601.50" width="0.8" height="17.8" fill="#ffffff" fill-opacity="0.55"/>
<text x="283.60" y="613.70" font-size="9.4" fill="#111" font-weight="bold" text-anchor="middle" textLength="13.48" lengthAdjust="spacingAndGlyphs">40*</text>
<text x="324.47" y="613.70" font-size="9.4" fill="#111" font-weight="bold" text-anchor="middle" textLength="9.99" lengthAdjust="spacingAndGlyphs">56</text>
<text x="365.00" y="613.70" font-size="9.4" fill="#353a40" text-anchor="middle" textLength="14.98" lengthAdjust="spacingAndGlyphs">150</text>
<text x="405.52" y="613.70" font-size="9.4" fill="#353a40" text-anchor="middle" textLength="14.98" lengthAdjust="spacingAndGlyphs">110</text>
<text x="446.05" y="613.70" font-size="9.4" fill="#353a40" text-anchor="middle" textLength="9.99" lengthAdjust="spacingAndGlyphs">26</text>
<text x="486.59" y="613.70" font-size="9.4" fill="#353a40" text-anchor="middle" textLength="9.99" lengthAdjust="spacingAndGlyphs">58</text>
<text x="527.57" y="613.70" font-size="9.4" fill="#353a40" text-anchor="middle" textLength="4.99" lengthAdjust="spacingAndGlyphs">4</text>
<text x="567.20" y="613.70" font-size="9.4" fill="#353a40" text-anchor="middle" textLength="19.96" lengthAdjust="spacingAndGlyphs">M 16</text>
<text x="608.86" y="613.70" font-size="9.4" fill="#353a40" text-anchor="middle" textLength="12.48" lengthAdjust="spacingAndGlyphs">1,6</text>
<rect x="263.90" y="620.91" width="39.40" height="17.80" fill="#e2e2e2" />
<rect x="305.10" y="620.91" width="38.73" height="17.80" fill="#e2e2e2" />
<rect x="345.63" y="620.91" width="38.73" height="17.80" fill="#e1f0fb" />
<rect x="386.16" y="620.91" width="38.73" height="17.80" fill="#e1f0fb" />
<rect x="426.69" y="620.91" width="38.73" height="17.80" fill="#e1f0fb" />
<rect x="467.22" y="620.91" width="38.73" height="17.80" fill="#e1f0fb" />
<rect x="507.75" y="620.91" width="79.26" height="17.80" fill="#e1f0fb" />
<rect x="588.81" y="620.91" width="40.09" height="17.80" fill="#e1f0fb" />
<rect x="546.98" y="620.91" width="0.8" height="17.8" fill="#ffffff" fill-opacity="0.55"/>
<text x="283.60" y="633.11" font-size="9.4" fill="#111" font-weight="bold" text-anchor="middle" textLength="9.99" lengthAdjust="spacingAndGlyphs">50</text>
<text x="324.47" y="633.11" font-size="9.4" fill="#111" font-weight="bold" text-anchor="middle" textLength="9.99" lengthAdjust="spacingAndGlyphs">66</text>
<text x="365.00" y="633.11" font-size="9.4" fill="#353a40" text-anchor="middle" textLength="14.98" lengthAdjust="spacingAndGlyphs">165</text>
<text x="405.52" y="633.11" font-size="9.4" fill="#353a40" text-anchor="middle" textLength="14.98" lengthAdjust="spacingAndGlyphs">125</text>
<text x="446.05" y="633.11" font-size="9.4" fill="#353a40" text-anchor="middle" textLength="9.99" lengthAdjust="spacingAndGlyphs">60</text>
<text x="486.59" y="633.11" font-size="9.4" fill="#353a40" text-anchor="middle" textLength="9.99" lengthAdjust="spacingAndGlyphs">71</text>
<text x="527.57" y="633.11" font-size="9.4" fill="#353a40" text-anchor="middle" textLength="4.99" lengthAdjust="spacingAndGlyphs">4</text>
<text x="567.20" y="633.11" font-size="9.4" fill="#353a40" text-anchor="middle" textLength="19.96" lengthAdjust="spacingAndGlyphs">M 16</text>
<text x="608.86" y="633.11" font-size="9.4" fill="#353a40" text-anchor="middle" textLength="12.48" lengthAdjust="spacingAndGlyphs">2,9</text>
<rect x="263.90" y="640.32" width="39.40" height="17.80" fill="#e2e2e2" />
<rect x="305.10" y="640.32" width="38.73" height="17.80" fill="#e2e2e2" />
<rect x="345.63" y="640.32" width="38.73" height="17.80" fill="#e1f0fb" />
<rect x="386.16" y="640.32" width="38.73" height="17.80" fill="#e1f0fb" />
<rect x="426.69" y="640.32" width="38.73" height="17.80" fill="#e1f0fb" />
<rect x="467.22" y="640.32" width="38.73" height="17.80" fill="#e1f0fb" />
<rect x="507.75" y="640.32" width="79.26" height="17.80" fill="#e1f0fb" />
<rect x="588.81" y="640.32" width="40.09" height="17.80" fill="#e1f0fb" />
<rect x="546.98" y="640.32" width="0.8" height="17.8" fill="#ffffff" fill-opacity="0.55"/>
<text x="283.60" y="652.52" font-size="9.4" fill="#111" font-weight="bold" text-anchor="middle" textLength="9.99" lengthAdjust="spacingAndGlyphs">60</text>
<text x="324.47" y="652.52" font-size="9.4" fill="#111" font-weight="bold" text-anchor="middle" textLength="9.99" lengthAdjust="spacingAndGlyphs">77</text>
<text x="365.00" y="652.52" font-size="9.4" fill="#353a40" text-anchor="middle" textLength="14.98" lengthAdjust="spacingAndGlyphs">175</text>
<text x="405.52" y="652.52" font-size="9.4" fill="#353a40" text-anchor="middle" textLength="14.98" lengthAdjust="spacingAndGlyphs">135</text>
<text x="446.05" y="652.52" font-size="9.4" fill="#353a40" text-anchor="middle" textLength="9.99" lengthAdjust="spacingAndGlyphs">60</text>
<text x="486.59" y="652.52" font-size="9.4" fill="#353a40" text-anchor="middle" textLength="9.99" lengthAdjust="spacingAndGlyphs">73</text>
<text x="527.57" y="652.52" font-size="9.4" fill="#353a40" text-anchor="middle" textLength="4.99" lengthAdjust="spacingAndGlyphs">4</text>
<text x="567.20" y="652.52" font-size="9.4" fill="#353a40" text-anchor="middle" textLength="19.96" lengthAdjust="spacingAndGlyphs">M 16</text>
<text x="608.86" y="652.52" font-size="9.4" fill="#353a40" text-anchor="middle" textLength="12.48" lengthAdjust="spacingAndGlyphs">3,2</text>
<rect x="263.90" y="659.73" width="39.40" height="17.80" fill="#e2e2e2" />
<rect x="305.10" y="659.73" width="38.73" height="17.80" fill="#e2e2e2" />
<rect x="345.63" y="659.73" width="38.73" height="17.80" fill="#e1f0fb" />
<rect x="386.16" y="659.73" width="38.73" height="17.80" fill="#e1f0fb" />
<rect x="426.69" y="659.73" width="38.73" height="17.80" fill="#e1f0fb" />
<rect x="467.22" y="659.73" width="38.73" height="17.80" fill="#e1f0fb" />
<rect x="507.75" y="659.73" width="79.26" height="17.80" fill="#e1f0fb" />
<rect x="588.81" y="659.73" width="40.09" height="17.80" fill="#e1f0fb" />
<rect x="546.98" y="659.73" width="0.8" height="17.8" fill="#ffffff" fill-opacity="0.55"/>
<text x="283.60" y="671.93" font-size="9.4" fill="#111" font-weight="bold" text-anchor="middle" textLength="9.99" lengthAdjust="spacingAndGlyphs">65</text>
<text x="324.47" y="671.93" font-size="9.4" fill="#111" font-weight="bold" text-anchor="middle" textLength="9.99" lengthAdjust="spacingAndGlyphs">82</text>
<text x="365.00" y="671.93" font-size="9.4" fill="#353a40" text-anchor="middle" textLength="14.98" lengthAdjust="spacingAndGlyphs">185</text>
<text x="405.52" y="671.93" font-size="9.4" fill="#353a40" text-anchor="middle" textLength="14.98" lengthAdjust="spacingAndGlyphs">145</text>
<text x="446.05" y="671.93" font-size="9.4" fill="#353a40" text-anchor="middle" textLength="9.99" lengthAdjust="spacingAndGlyphs">63</text>
<text x="486.59" y="671.93" font-size="9.4" fill="#353a40" text-anchor="middle" textLength="9.99" lengthAdjust="spacingAndGlyphs">79</text>
<text x="527.57" y="671.93" font-size="9.4" fill="#353a40" text-anchor="middle" textLength="4.99" lengthAdjust="spacingAndGlyphs">4</text>
<text x="567.20" y="671.93" font-size="9.4" fill="#353a40" text-anchor="middle" textLength="19.96" lengthAdjust="spacingAndGlyphs">M 16</text>
<text x="608.86" y="671.93" font-size="9.4" fill="#353a40" text-anchor="middle" textLength="12.48" lengthAdjust="spacingAndGlyphs">3,7</text>
<rect x="263.90" y="679.14" width="39.40" height="17.80" fill="#e2e2e2" />
<rect x="305.10" y="679.14" width="38.73" height="17.80" fill="#e2e2e2" />
<rect x="345.63" y="679.14" width="38.73" height="17.80" fill="#e1f0fb" />
<rect x="386.16" y="679.14" width="38.73" height="17.80" fill="#e1f0fb" />
<rect x="426.69" y="679.14" width="38.73" height="17.80" fill="#e1f0fb" />
<rect x="467.22" y="679.14" width="38.73" height="17.80" fill="#e1f0fb" />
<rect x="507.75" y="679.14" width="79.26" height="17.80" fill="#e1f0fb" />
<rect x="588.81" y="679.14" width="40.09" height="17.80" fill="#e1f0fb" />
<rect x="546.98" y="679.14" width="0.8" height="17.8" fill="#ffffff" fill-opacity="0.55"/>
<text x="283.60" y="691.34" font-size="9.4" fill="#111" font-weight="bold" text-anchor="middle" textLength="9.99" lengthAdjust="spacingAndGlyphs">80</text>
<text x="324.47" y="691.34" font-size="9.4" fill="#111" font-weight="bold" text-anchor="middle" textLength="9.99" lengthAdjust="spacingAndGlyphs">98</text>
<text x="365.00" y="691.34" font-size="9.4" fill="#353a40" text-anchor="middle" textLength="14.98" lengthAdjust="spacingAndGlyphs">200</text>
<text x="405.52" y="691.34" font-size="9.4" fill="#353a40" text-anchor="middle" textLength="14.98" lengthAdjust="spacingAndGlyphs">160</text>
<text x="446.05" y="691.34" font-size="9.4" fill="#353a40" text-anchor="middle" textLength="9.99" lengthAdjust="spacingAndGlyphs">59</text>
<text x="486.59" y="691.34" font-size="9.4" fill="#353a40" text-anchor="middle" textLength="9.99" lengthAdjust="spacingAndGlyphs">76</text>
<text x="527.57" y="691.34" font-size="9.4" fill="#353a40" text-anchor="middle" textLength="4.99" lengthAdjust="spacingAndGlyphs">8</text>
<text x="567.20" y="691.34" font-size="9.4" fill="#353a40" text-anchor="middle" textLength="19.96" lengthAdjust="spacingAndGlyphs">M 16</text>
<text x="608.86" y="691.34" font-size="9.4" fill="#353a40" text-anchor="middle" textLength="12.48" lengthAdjust="spacingAndGlyphs">3,9</text>
<rect x="263.90" y="698.55" width="39.40" height="17.80" fill="#e2e2e2" />
<rect x="305.10" y="698.55" width="38.73" height="17.80" fill="#e2e2e2" />
<rect x="345.63" y="698.55" width="38.73" height="17.80" fill="#e1f0fb" />
<rect x="386.16" y="698.55" width="38.73" height="17.80" fill="#e1f0fb" />
<rect x="426.69" y="698.55" width="38.73" height="17.80" fill="#e1f0fb" />
<rect x="467.22" y="698.55" width="38.73" height="17.80" fill="#e1f0fb" />
<rect x="507.75" y="698.55" width="79.26" height="17.80" fill="#e1f0fb" />
<rect x="588.81" y="698.55" width="40.09" height="17.80" fill="#e1f0fb" />
<rect x="546.98" y="698.55" width="0.8" height="17.8" fill="#ffffff" fill-opacity="0.55"/>
<text x="283.60" y="710.75" font-size="9.4" fill="#111" font-weight="bold" text-anchor="middle" textLength="9.99" lengthAdjust="spacingAndGlyphs">80</text>
<text x="324.47" y="710.75" font-size="9.4" fill="#111" font-weight="bold" text-anchor="middle" textLength="14.98" lengthAdjust="spacingAndGlyphs">101</text>
<text x="365.00" y="710.75" font-size="9.4" fill="#353a40" text-anchor="middle" textLength="14.98" lengthAdjust="spacingAndGlyphs">200</text>
<text x="405.52" y="710.75" font-size="9.4" fill="#353a40" text-anchor="middle" textLength="14.98" lengthAdjust="spacingAndGlyphs">160</text>
<text x="446.05" y="710.75" font-size="9.4" fill="#353a40" text-anchor="middle" textLength="9.99" lengthAdjust="spacingAndGlyphs">59</text>
<text x="486.59" y="710.75" font-size="9.4" fill="#353a40" text-anchor="middle" textLength="9.99" lengthAdjust="spacingAndGlyphs">76</text>
<text x="527.57" y="710.75" font-size="9.4" fill="#353a40" text-anchor="middle" textLength="4.99" lengthAdjust="spacingAndGlyphs">8</text>
<text x="567.20" y="710.75" font-size="9.4" fill="#353a40" text-anchor="middle" textLength="19.96" lengthAdjust="spacingAndGlyphs">M 16</text>
<text x="608.86" y="710.75" font-size="9.4" fill="#353a40" text-anchor="middle" textLength="12.48" lengthAdjust="spacingAndGlyphs">3,5</text>
<rect x="263.90" y="717.96" width="39.40" height="17.80" fill="#e2e2e2" />
<rect x="305.10" y="717.96" width="38.73" height="17.80" fill="#e2e2e2" />
<rect x="345.63" y="717.96" width="38.73" height="17.80" fill="#e1f0fb" />
<rect x="386.16" y="717.96" width="38.73" height="17.80" fill="#e1f0fb" />
<rect x="426.69" y="717.96" width="38.73" height="17.80" fill="#e1f0fb" />
<rect x="467.22" y="717.96" width="38.73" height="17.80" fill="#e1f0fb" />
<rect x="507.75" y="717.96" width="79.26" height="17.80" fill="#e1f0fb" />
<rect x="588.81" y="717.96" width="40.09" height="17.80" fill="#e1f0fb" />
<rect x="546.98" y="717.96" width="0.8" height="17.8" fill="#ffffff" fill-opacity="0.55"/>
<text x="283.60" y="730.16" font-size="9.4" fill="#111" font-weight="bold" text-anchor="middle" textLength="14.98" lengthAdjust="spacingAndGlyphs">100</text>
<text x="324.47" y="730.16" font-size="9.4" fill="#111" font-weight="bold" text-anchor="middle" textLength="14.98" lengthAdjust="spacingAndGlyphs">118</text>
<text x="365.00" y="730.16" font-size="9.4" fill="#353a40" text-anchor="middle" textLength="14.98" lengthAdjust="spacingAndGlyphs">220</text>
<text x="405.52" y="730.16" font-size="9.4" fill="#353a40" text-anchor="middle" textLength="14.98" lengthAdjust="spacingAndGlyphs">180</text>
<text x="446.05" y="730.16" font-size="9.4" fill="#353a40" text-anchor="middle" textLength="9.99" lengthAdjust="spacingAndGlyphs">60</text>
<text x="486.59" y="730.16" font-size="9.4" fill="#353a40" text-anchor="middle" textLength="9.99" lengthAdjust="spacingAndGlyphs">78</text>
<text x="527.57" y="730.16" font-size="9.4" fill="#353a40" text-anchor="middle" textLength="4.99" lengthAdjust="spacingAndGlyphs">8</text>
<text x="567.20" y="730.16" font-size="9.4" fill="#353a40" text-anchor="middle" textLength="19.96" lengthAdjust="spacingAndGlyphs">M 16</text>
<text x="608.86" y="730.16" font-size="9.4" fill="#353a40" text-anchor="middle" textLength="12.48" lengthAdjust="spacingAndGlyphs">4,6</text>
<rect x="263.90" y="737.37" width="39.40" height="17.80" fill="#e2e2e2" />
<rect x="305.10" y="737.37" width="38.73" height="17.80" fill="#e2e2e2" />
<rect x="345.63" y="737.37" width="38.73" height="17.80" fill="#e1f0fb" />
<rect x="386.16" y="737.37" width="38.73" height="17.80" fill="#e1f0fb" />
<rect x="426.69" y="737.37" width="38.73" height="17.80" fill="#e1f0fb" />
<rect x="467.22" y="737.37" width="38.73" height="17.80" fill="#e1f0fb" />
<rect x="507.75" y="737.37" width="79.26" height="17.80" fill="#e1f0fb" />
<rect x="588.81" y="737.37" width="40.09" height="17.80" fill="#e1f0fb" />
<rect x="546.98" y="737.37" width="0.8" height="17.8" fill="#ffffff" fill-opacity="0.55"/>
<text x="283.60" y="749.57" font-size="9.4" fill="#111" font-weight="bold" text-anchor="middle" textLength="14.98" lengthAdjust="spacingAndGlyphs">125</text>
<text x="324.47" y="749.57" font-size="9.4" fill="#111" font-weight="bold" text-anchor="middle" textLength="14.98" lengthAdjust="spacingAndGlyphs">144</text>
<text x="365.00" y="749.57" font-size="9.4" fill="#353a40" text-anchor="middle" textLength="14.98" lengthAdjust="spacingAndGlyphs">250</text>
<text x="405.52" y="749.57" font-size="9.4" fill="#353a40" text-anchor="middle" textLength="14.98" lengthAdjust="spacingAndGlyphs">210</text>
<text x="446.05" y="749.57" font-size="9.4" fill="#353a40" text-anchor="middle" textLength="9.99" lengthAdjust="spacingAndGlyphs">62</text>
<text x="486.59" y="749.57" font-size="9.4" fill="#353a40" text-anchor="middle" textLength="9.99" lengthAdjust="spacingAndGlyphs">85</text>
<text x="527.57" y="749.57" font-size="9.4" fill="#353a40" text-anchor="middle" textLength="4.99" lengthAdjust="spacingAndGlyphs">8</text>
<text x="567.20" y="749.57" font-size="9.4" fill="#353a40" text-anchor="middle" textLength="19.96" lengthAdjust="spacingAndGlyphs">M 16</text>
<text x="608.86" y="749.57" font-size="9.4" fill="#353a40" text-anchor="middle" textLength="12.48" lengthAdjust="spacingAndGlyphs">6,0</text>
<rect x="263.90" y="756.78" width="39.40" height="17.80" fill="#e2e2e2" />
<rect x="305.10" y="756.78" width="38.73" height="17.80" fill="#e2e2e2" />
<rect x="345.63" y="756.78" width="38.73" height="17.80" fill="#e1f0fb" />
<rect x="386.16" y="756.78" width="38.73" height="17.80" fill="#e1f0fb" />
<rect x="426.69" y="756.78" width="38.73" height="17.80" fill="#e1f0fb" />
<rect x="467.22" y="756.78" width="38.73" height="17.80" fill="#e1f0fb" />
<rect x="507.75" y="756.78" width="79.26" height="17.80" fill="#e1f0fb" />
<rect x="588.81" y="756.78" width="40.09" height="17.80" fill="#e1f0fb" />
<rect x="546.98" y="756.78" width="0.8" height="17.8" fill="#ffffff" fill-opacity="0.55"/>
<text x="283.60" y="768.98" font-size="9.4" fill="#111" font-weight="bold" text-anchor="middle" textLength="14.98" lengthAdjust="spacingAndGlyphs">150</text>
<text x="324.47" y="768.98" font-size="9.4" fill="#111" font-weight="bold" text-anchor="middle" textLength="14.98" lengthAdjust="spacingAndGlyphs">170</text>
<text x="365.00" y="768.98" font-size="9.4" fill="#353a40" text-anchor="middle" textLength="14.98" lengthAdjust="spacingAndGlyphs">285</text>
<text x="405.52" y="768.98" font-size="9.4" fill="#353a40" text-anchor="middle" textLength="14.98" lengthAdjust="spacingAndGlyphs">240</text>
<text x="446.05" y="768.98" font-size="9.4" fill="#353a40" text-anchor="middle" textLength="9.99" lengthAdjust="spacingAndGlyphs">87</text>
<text x="486.59" y="768.98" font-size="9.4" fill="#353a40" text-anchor="middle" textLength="9.99" lengthAdjust="spacingAndGlyphs">98</text>
<text x="527.57" y="768.98" font-size="9.4" fill="#353a40" text-anchor="middle" textLength="4.99" lengthAdjust="spacingAndGlyphs">8</text>
<text x="567.20" y="768.98" font-size="9.4" fill="#353a40" text-anchor="middle" textLength="19.96" lengthAdjust="spacingAndGlyphs">M 20</text>
<text x="608.86" y="768.98" font-size="9.4" fill="#353a40" text-anchor="middle" textLength="12.48" lengthAdjust="spacingAndGlyphs">9,3</text>
<rect x="263.90" y="776.19" width="39.40" height="17.80" fill="#e2e2e2" />
<rect x="305.10" y="776.19" width="38.73" height="17.80" fill="#e2e2e2" />
<rect x="345.63" y="776.19" width="38.73" height="17.80" fill="#e1f0fb" />
<rect x="386.16" y="776.19" width="38.73" height="17.80" fill="#e1f0fb" />
<rect x="426.69" y="776.19" width="38.73" height="17.80" fill="#e1f0fb" />
<rect x="467.22" y="776.19" width="38.73" height="17.80" fill="#e1f0fb" />
<rect x="507.75" y="776.19" width="79.26" height="17.80" fill="#e1f0fb" />
<rect x="588.81" y="776.19" width="40.09" height="17.80" fill="#e1f0fb" />
<rect x="546.98" y="776.19" width="0.8" height="17.8" fill="#ffffff" fill-opacity="0.55"/>
<text x="283.60" y="788.39" font-size="9.4" fill="#111" font-weight="bold" text-anchor="middle" textLength="14.98" lengthAdjust="spacingAndGlyphs">200</text>
<text x="324.47" y="788.39" font-size="9.4" fill="#111" font-weight="bold" text-anchor="middle" textLength="14.98" lengthAdjust="spacingAndGlyphs">222</text>
<text x="365.00" y="788.39" font-size="9.4" fill="#353a40" text-anchor="middle" textLength="14.98" lengthAdjust="spacingAndGlyphs">340</text>
<text x="405.52" y="788.39" font-size="9.4" fill="#353a40" text-anchor="middle" textLength="14.98" lengthAdjust="spacingAndGlyphs">295</text>
<text x="446.05" y="788.39" font-size="9.4" fill="#353a40" text-anchor="middle" textLength="9.99" lengthAdjust="spacingAndGlyphs">90</text>
<text x="486.59" y="788.39" font-size="9.4" fill="#353a40" text-anchor="middle" textLength="14.98" lengthAdjust="spacingAndGlyphs">105</text>
<text x="527.57" y="788.39" font-size="9.4" fill="#353a40" text-anchor="middle" textLength="4.99" lengthAdjust="spacingAndGlyphs">8</text>
<text x="567.20" y="788.39" font-size="9.4" fill="#353a40" text-anchor="middle" textLength="19.96" lengthAdjust="spacingAndGlyphs">M 20</text>
<text x="608.86" y="788.39" font-size="9.4" fill="#353a40" text-anchor="middle" textLength="17.47" lengthAdjust="spacingAndGlyphs">14,0</text>
<rect x="263.90" y="795.60" width="39.40" height="17.80" fill="#e2e2e2" />
<rect x="305.10" y="795.60" width="38.73" height="17.80" fill="#e2e2e2" />
<rect x="345.63" y="795.60" width="38.73" height="17.80" fill="#e1f0fb" />
<rect x="386.16" y="795.60" width="38.73" height="17.80" fill="#e1f0fb" />
<rect x="426.69" y="795.60" width="38.73" height="17.80" fill="#e1f0fb" />
<rect x="467.22" y="795.60" width="38.73" height="17.80" fill="#e1f0fb" />
<rect x="507.75" y="795.60" width="79.26" height="17.80" fill="#e1f0fb" />
<rect x="588.81" y="795.60" width="40.09" height="17.80" fill="#e1f0fb" />
<rect x="546.98" y="795.60" width="0.8" height="17.8" fill="#ffffff" fill-opacity="0.55"/>
<text x="283.60" y="807.80" font-size="9.4" fill="#111" font-weight="bold" text-anchor="middle" textLength="14.98" lengthAdjust="spacingAndGlyphs">250</text>
<text x="324.47" y="807.80" font-size="9.4" fill="#111" font-weight="bold" text-anchor="middle" textLength="14.98" lengthAdjust="spacingAndGlyphs">274</text>
<text x="365.00" y="807.80" font-size="9.4" fill="#353a40" text-anchor="middle" textLength="14.98" lengthAdjust="spacingAndGlyphs">400</text>
<text x="405.52" y="807.80" font-size="9.4" fill="#353a40" text-anchor="middle" textLength="14.98" lengthAdjust="spacingAndGlyphs">355</text>
<text x="446.05" y="807.80" font-size="9.4" fill="#353a40" text-anchor="middle" textLength="9.99" lengthAdjust="spacingAndGlyphs">90</text>
<text x="486.59" y="807.80" font-size="9.4" fill="#353a40" text-anchor="middle" textLength="14.98" lengthAdjust="spacingAndGlyphs">105</text>
<text x="527.57" y="807.80" font-size="9.4" fill="#353a40" text-anchor="middle" textLength="9.99" lengthAdjust="spacingAndGlyphs">12</text>
<text x="567.20" y="807.80" font-size="9.4" fill="#353a40" text-anchor="middle" textLength="19.96" lengthAdjust="spacingAndGlyphs">M 20</text>
<text x="608.86" y="807.80" font-size="9.4" fill="#353a40" text-anchor="middle" textLength="17.47" lengthAdjust="spacingAndGlyphs">17,5</text>
<rect x="263.90" y="815.01" width="39.40" height="17.80" fill="#e2e2e2" />
<rect x="305.10" y="815.01" width="38.73" height="17.80" fill="#e2e2e2" />
<rect x="345.63" y="815.01" width="38.73" height="17.80" fill="#e1f0fb" />
<rect x="386.16" y="815.01" width="38.73" height="17.80" fill="#e1f0fb" />
<rect x="426.69" y="815.01" width="38.73" height="17.80" fill="#e1f0fb" />
<rect x="467.22" y="815.01" width="38.73" height="17.80" fill="#e1f0fb" />
<rect x="507.75" y="815.01" width="79.26" height="17.80" fill="#e1f0fb" />
<rect x="588.81" y="815.01" width="40.09" height="17.80" fill="#e1f0fb" />
<rect x="546.98" y="815.01" width="0.8" height="17.8" fill="#ffffff" fill-opacity="0.55"/>
<text x="283.60" y="827.21" font-size="9.4" fill="#111" font-weight="bold" text-anchor="middle" textLength="14.98" lengthAdjust="spacingAndGlyphs">300</text>
<text x="324.47" y="827.21" font-size="9.4" fill="#111" font-weight="bold" text-anchor="middle" textLength="14.98" lengthAdjust="spacingAndGlyphs">326</text>
<text x="365.00" y="827.21" font-size="9.4" fill="#353a40" text-anchor="middle" textLength="14.98" lengthAdjust="spacingAndGlyphs">455</text>
<text x="405.52" y="827.21" font-size="9.4" fill="#353a40" text-anchor="middle" textLength="14.98" lengthAdjust="spacingAndGlyphs">405</text>
<text x="446.05" y="827.21" font-size="9.4" fill="#353a40" text-anchor="middle" textLength="9.99" lengthAdjust="spacingAndGlyphs">90</text>
<text x="486.59" y="827.21" font-size="9.4" fill="#353a40" text-anchor="middle" textLength="14.98" lengthAdjust="spacingAndGlyphs">105</text>
<text x="527.57" y="827.21" font-size="9.4" fill="#353a40" text-anchor="middle" textLength="9.99" lengthAdjust="spacingAndGlyphs">12</text>
<text x="567.20" y="827.21" font-size="9.4" fill="#353a40" text-anchor="middle" textLength="19.96" lengthAdjust="spacingAndGlyphs">M 20</text>
<text x="608.86" y="827.21" font-size="9.4" fill="#353a40" text-anchor="middle" textLength="17.47" lengthAdjust="spacingAndGlyphs">21,7</text>
<text x="283.60" y="582.00" font-size="8.8" fill="#111" font-weight="bold" text-anchor="middle">Flangia</text>
<text x="283.60" y="592.80" font-size="8.8" fill="#111" font-weight="bold" text-anchor="middle">DN</text>
<text x="324.47" y="587.50" font-size="8.8" fill="#111" font-weight="bold" text-anchor="middle"><tspan font-weight="normal">Ø</tspan>tubo</text>
<text x="365.00" y="587.50" font-size="8.8" fill="#111" font-weight="bold" text-anchor="middle"><tspan font-weight="normal">Ø</tspan> D</text>
<text x="405.52" y="587.50" font-size="8.8" fill="#111" font-weight="bold" text-anchor="middle"><tspan font-weight="normal">Ø</tspan> K</text>
<text x="446.05" y="587.50" font-size="8.8" fill="#111" font-weight="bold" text-anchor="middle">C</text>
<text x="486.59" y="587.50" font-size="8.8" fill="#111" font-weight="bold" text-anchor="middle">L</text>
<text x="547.38" y="580.00" font-size="8.8" fill="#111" font-weight="bold" text-anchor="middle">Viti</text>
<text x="527.57" y="596.00" font-size="8.8" fill="#111" font-weight="bold" text-anchor="middle" textLength="33.4" lengthAdjust="spacingAndGlyphs">Numero</text>
<text x="567.20" y="595.80" font-size="8.2" fill="#111" font-weight="bold" text-anchor="middle" textLength="32" lengthAdjust="spacingAndGlyphs">Filettatura</text>
<text x="608.86" y="587.50" font-size="8.8" fill="#111" font-weight="bold" text-anchor="middle">Peso</text>
<text x="263.20" y="845.30" font-size="7.3" fill="#333" textLength="112.6" lengthAdjust="spacingAndGlyphs">* Flangia ZK con barra filettata</text>
<rect x="32.10" y="853.40" width="596.70" height="63.40" fill="#16a8e0" />
<polygon points="32.1,853.4 92,853.4 113.3,916.8 32.1,916.8" fill="#d4eaf9"/>
<rect x="32.10" y="921.20" width="596.70" height="4.40" fill="#16a8e0" />
<text x="44.60" y="891.40" font-size="18.0" fill="#0a0a0a" font-weight="bold" textLength="13.4" lengthAdjust="spacingAndGlyphs" stroke="#0a0a0a" stroke-width="0.9">C</text>
<text x="64.90" y="891.40" font-size="18.0" fill="#0a0a0a" font-weight="bold" textLength="10.4" lengthAdjust="spacingAndGlyphs" stroke="#0a0a0a" stroke-width="0.9">4</text>
<text x="75.40" y="891.80" font-size="18.2" fill="#111" textLength="17.6" lengthAdjust="spacingAndGlyphs">/2</text>
<polygon points="119,900.9 143.6,869.2 160.7,869.2 160.7,900.9 147.4,900.9 147.4,883.8 134.1,900.9" fill="#e31e24"/>
<polygon points="124.2,900.9 148.8,869.2 154.6,869.2 130.1,900.9" fill="#ffffff"/>
<polygon points="151.8,900.9 151.8,880.2 156.6,875 156.6,900.9" fill="#ffffff"/>
<text x="0" y="0" font-size="5.3" font-weight="bold" fill="#17447c" transform="translate(114.4,900.4) rotate(-52.2)" textLength="29" lengthAdjust="spacingAndGlyphs">AUSTRIA</text>
<text x="167.80" y="883.30" font-size="9.0" fill="#13223c" font-weight="bold" textLength="157.5" lengthAdjust="spacingAndGlyphs">E. Hawle Armaturenwerke GmbH</text>
<text x="334.00" y="883.30" font-size="9.0" fill="#1c3352" textLength="223.5" lengthAdjust="spacingAndGlyphs" style="white-space:pre">4840 Vöcklabruck  -  Austria  -  Wagrainer Straße 13</text>
<text x="167.80" y="895.30" font-size="9.0" fill="#1c3352" textLength="436.8" lengthAdjust="spacingAndGlyphs" style="white-space:pre">Tel.: +43 (0) 7672 72576 0  -  Fax: +43 (0) 7672 78464  -  E-Mail: hawle@hawle.at  -  www.hawle.com</text>
<text x="32.50" y="937.40" font-size="5.6" fill="#555" textLength="433.3" lengthAdjust="spacingAndGlyphs">Le immagini, i dati tecnici, le misure (tutte le misure sono in mm) e i pesi (tutti i pesi sono indicati in kg) non sono vincolanti. Con riserva di modifiche.</text>
<text x="628.90" y="937.60" font-size="6.8" fill="#555" text-anchor="end" textLength="51.2" lengthAdjust="spacingAndGlyphs">Edizione 10.2016</text>
<g id="drawings" fill="none" stroke-linejoin="round">
<!-- ============ Drawing 7102 ============ -->
<text x="100.4" y="155.1" font-size="9.3" fill="#333" text-anchor="middle" stroke="none" textLength="33" lengthAdjust="spacingAndGlyphs">Nr. 7102</text>
<text x="206" y="155.3" font-size="9.3" fill="#333" text-anchor="middle" stroke="none" textLength="33" lengthAdjust="spacingAndGlyphs">Nr. 0102</text>
<g id="d1top">
  <!-- bolt box -->
  <rect x="98.1" y="167.6" width="14.4" height="18.6" fill="#fff" stroke="#333" stroke-width="0.7"/>
  <polygon points="98.5,168 112.1,168 112.1,173 104,173 98.5,170.8" fill="url(#hatch)" stroke="none"/>
  <polyline points="98.5,170.8 104,173 112.1,173" stroke="#444" stroke-width="0.5"/>
  <line x1="104" y1="173" x2="104" y2="186.2" stroke="#444" stroke-width="0.6"/>
  <!-- hub -->
  <polygon points="96.3,186.2 112.1,186.2 113.1,190.1 115.5,190.7 123.7,193 126,193.9 127.9,195.4 131.4,196.6 131.6,199.8 120.2,198.6 117.8,196.9 98.4,195.1 98.4,188.2 96.3,188.2" fill="url(#hatch)" stroke="#222" stroke-width="0.7"/>
  <!-- black gasket -->
  <polygon points="95.2,189.5 98.4,189.5 98.4,195.1 117.8,196.9 120.2,198.6 131.6,199.8 134.4,201.3 95.2,201.3" fill="#111" stroke="#111" stroke-width="0.4"/>
  <!-- pipe wall -->
  <rect x="95.2" y="201.3" width="39.4" height="5.2" fill="#c9c9c9"/>
  <line x1="95.2" y1="201.5" x2="134.6" y2="201.5" stroke="#555" stroke-width="0.5"/>
  <line x1="95.2" y1="206.3" x2="134.6" y2="206.3" stroke="#3a3a3a" stroke-width="0.8"/>
  <line x1="134.6" y1="201.3" x2="134.6" y2="206.5" stroke="#666" stroke-width="0.5"/>
  <!-- ext lines -->
  <line x1="59" y1="167.6" x2="98.1" y2="167.6" stroke="#666" stroke-width="0.45"/>
  <line x1="76" y1="179.2" x2="117" y2="179.2" stroke="#666" stroke-width="0.45"/>
</g>
<g transform="translate(0,490.2) scale(1,-1)">
  <!-- bolt box -->
  <rect x="98.1" y="167.6" width="14.4" height="18.6" fill="#fff" stroke="#333" stroke-width="0.7"/>
  <polygon points="98.5,168 112.1,168 112.1,173 104,173 98.5,170.8" fill="url(#hatchm)" stroke="none"/>
  <polyline points="98.5,170.8 104,173 112.1,173" stroke="#444" stroke-width="0.5"/>
  <line x1="104" y1="173" x2="104" y2="186.2" stroke="#444" stroke-width="0.6"/>
  <!-- hub -->
  <polygon points="96.3,186.2 112.1,186.2 113.1,190.1 115.5,190.7 123.7,193 126,193.9 127.9,195.4 131.4,196.6 131.6,199.8 120.2,198.6 117.8,196.9 98.4,195.1 98.4,188.2 96.3,188.2" fill="url(#hatchm)" stroke="#222" stroke-width="0.7"/>
  <!-- black gasket -->
  <polygon points="95.2,189.5 98.4,189.5 98.4,195.1 117.8,196.9 120.2,198.6 131.6,199.8 134.4,201.3 95.2,201.3" fill="#111" stroke="#111" stroke-width="0.4"/>
  <!-- pipe wall -->
  <rect x="95.2" y="201.3" width="39.4" height="5.2" fill="#c9c9c9"/>
  <line x1="95.2" y1="201.5" x2="134.6" y2="201.5" stroke="#555" stroke-width="0.5"/>
  <line x1="95.2" y1="206.3" x2="134.6" y2="206.3" stroke="#3a3a3a" stroke-width="0.8"/>
  <line x1="134.6" y1="201.3" x2="134.6" y2="206.5" stroke="#666" stroke-width="0.5"/>
  <!-- ext lines -->
  <line x1="59" y1="167.6" x2="98.1" y2="167.6" stroke="#666" stroke-width="0.45"/>
  <line x1="76" y1="179.2" x2="117" y2="179.2" stroke="#666" stroke-width="0.45"/>
</g>
<!-- pipe edges -->
<line x1="95.2" y1="201" x2="95.2" y2="289" stroke="#333" stroke-width="0.8"/>
<path d="M134.5,206.5 C134.8,220 134.2,232 134.8,245 C135.2,258 134.3,270 134.6,283.7" stroke="#555" stroke-width="0.6"/>
<line x1="88" y1="245.1" x2="141" y2="245.1" stroke="#888" stroke-width="0.45" stroke-dasharray="7 1.5 1 1.5"/>
<!-- dimension ØD / ØK -->
<line x1="61.5" y1="167.6" x2="61.5" y2="322.6" stroke="#555" stroke-width="0.5"/>
<polygon points="61.5,167.6 60.5,173 62.5,173" fill="#333"/>
<polygon points="61.5,322.6 60.5,317.2 62.5,317.2" fill="#333"/>
<line x1="78.3" y1="179.2" x2="78.3" y2="311" stroke="#555" stroke-width="0.5"/>
<polygon points="78.3,179.2 77.3,184.6 79.3,184.6" fill="#333"/>
<polygon points="78.3,311 77.3,305.6 79.3,305.6" fill="#333"/>
<text transform="translate(59.4,246.4) rotate(-90)" font-size="9" fill="#333" text-anchor="middle" stroke="none">Ø D</text>
<text transform="translate(76.1,246.3) rotate(-90)" font-size="9" fill="#333" text-anchor="middle" stroke="none">Ø K</text>
<!-- C / L dims -->
<line x1="95.4" y1="301" x2="95.4" y2="357.5" stroke="#666" stroke-width="0.45"/>
<line x1="112.4" y1="323" x2="112.4" y2="341" stroke="#666" stroke-width="0.45"/>
<line x1="131.9" y1="290" x2="131.9" y2="357.5" stroke="#666" stroke-width="0.45"/>
<line x1="88.4" y1="338.8" x2="119.4" y2="338.8" stroke="#666" stroke-width="0.45"/>
<polygon points="95.4,338.8 89.4,337.9 89.4,339.7" fill="#333"/>
<polygon points="112.4,338.8 118.4,337.9 118.4,339.7" fill="#333"/>
<line x1="95.4" y1="355.4" x2="131.9" y2="355.4" stroke="#666" stroke-width="0.45"/>
<polygon points="95.4,355.4 101.4,354.5 101.4,356.3" fill="#333"/>
<polygon points="131.9,355.4 125.9,354.5 125.9,356.3" fill="#333"/>
<text x="104.8" y="337.7" font-size="8.6" fill="#333" text-anchor="middle" stroke="none">C</text>
<text x="113.3" y="353.0" font-size="8.8" fill="#333" text-anchor="middle" stroke="none">L</text>

<!-- ============ Drawing 0102 ============ -->
<g id="d2top">
  <rect x="199.4" y="168.75" width="18.4" height="18.75" fill="#fff" stroke="#333" stroke-width="0.7"/>
  <polygon points="199.8,169.1 217.4,169.1 217.4,173.7 207.5,173.7 199.8,171.5" fill="url(#hatch)" stroke="none"/>
  <polyline points="199.8,171.5 207.5,173.7 217.4,173.7" stroke="#444" stroke-width="0.5"/>
  <line x1="207.5" y1="173.7" x2="207.5" y2="187.5" stroke="#444" stroke-width="0.6"/>
  <line x1="195" y1="181.25" x2="221" y2="181.25" stroke="#777" stroke-width="0.4" stroke-dasharray="6 1.5 1 1.5"/>
  <polygon points="194.4,187.6 217.8,187.6 217.8,202.6 213.1,202.6 211.25,198.75 207.5,197.5 196.9,197.5 195.6,195 195,189.8 194.4,189.8" fill="url(#hatch)" stroke="#333" stroke-width="0.6"/>
  <polygon points="191.9,190.2 192.6,189.6 195,189.8 195.6,195 196.9,197.5 207.5,197.5 211.25,198.75 213.1,202.6 191.9,202.6" fill="#111" stroke="#111" stroke-width="0.4"/>
  <rect x="191.9" y="202.8" width="34.1" height="4.7" fill="#c9c9c9"/>
  <line x1="191.9" y1="203" x2="226" y2="203" stroke="#555" stroke-width="0.5"/>
  <line x1="191.9" y1="207.3" x2="226" y2="207.3" stroke="#3a3a3a" stroke-width="0.8"/>
  <line x1="226" y1="202.8" x2="226" y2="207.5" stroke="#666" stroke-width="0.5"/>
</g>
<g transform="translate(0,494.4) scale(1,-1)">
  <rect x="199.4" y="168.75" width="18.4" height="18.75" fill="#fff" stroke="#333" stroke-width="0.7"/>
  <polygon points="199.8,169.1 217.4,169.1 217.4,173.7 207.5,173.7 199.8,171.5" fill="url(#hatchm)" stroke="none"/>
  <polyline points="199.8,171.5 207.5,173.7 217.4,173.7" stroke="#444" stroke-width="0.5"/>
  <line x1="207.5" y1="173.7" x2="207.5" y2="187.5" stroke="#444" stroke-width="0.6"/>
  <line x1="195" y1="181.25" x2="221" y2="181.25" stroke="#777" stroke-width="0.4" stroke-dasharray="6 1.5 1 1.5"/>
  <polygon points="194.4,187.6 217.8,187.6 217.8,202.6 213.1,202.6 211.25,198.75 207.5,197.5 196.9,197.5 195.6,195 195,189.8 194.4,189.8" fill="url(#hatchm)" stroke="#333" stroke-width="0.6"/>
  <polygon points="191.9,190.2 192.6,189.6 195,189.8 195.6,195 196.9,197.5 207.5,197.5 211.25,198.75 213.1,202.6 191.9,202.6" fill="#111" stroke="#111" stroke-width="0.4"/>
  <rect x="191.9" y="202.8" width="34.1" height="4.7" fill="#c9c9c9"/>
  <line x1="191.9" y1="203" x2="226" y2="203" stroke="#555" stroke-width="0.5"/>
  <line x1="191.9" y1="207.3" x2="226" y2="207.3" stroke="#3a3a3a" stroke-width="0.8"/>
  <line x1="226" y1="202.8" x2="226" y2="207.5" stroke="#666" stroke-width="0.5"/>
</g>
<line x1="191.9" y1="202" x2="191.9" y2="292" stroke="#333" stroke-width="0.8"/>
<path d="M226,207.5 C226.3,222 225.6,235 226.3,247 C226.8,260 225.8,274 226.1,286.9" stroke="#555" stroke-width="0.6"/>
<line x1="186" y1="247.2" x2="230" y2="247.2" stroke="#888" stroke-width="0.45" stroke-dasharray="7 1.5 1 1.5"/>
<line x1="191.9" y1="304" x2="191.9" y2="345.5" stroke="#666" stroke-width="0.45"/>
<line x1="217.8" y1="326" x2="217.8" y2="345.5" stroke="#666" stroke-width="0.45"/>
<line x1="191.9" y1="342.75" x2="217.8" y2="342.75" stroke="#666" stroke-width="0.45"/>
<polygon points="191.9,342.75 197.9,341.85 197.9,343.65" fill="#333"/>
<polygon points="217.8,342.75 211.8,341.85 211.8,343.65" fill="#333"/>
<text x="203.8" y="340.4" font-size="9.2" fill="#333" text-anchor="middle" stroke="none">L</text>

<!-- ============ Drawing 7602 ============ -->
<g id="d3top">
  <rect x="169.8" y="572.1" width="11.8" height="18.3" fill="#fff" stroke="#333" stroke-width="0.7"/>
  <rect x="170.2" y="572.5" width="11" height="4.3" fill="url(#hatch)" stroke="none"/>
  <line x1="169.8" y1="576.8" x2="181.6" y2="576.8" stroke="#444" stroke-width="0.5"/>
  <polygon points="146.2,590.4 181.6,590.4 188.4,599.2 188.4,604.6 186.1,604.6 167.8,600.4 167.8,596.3 153,596.3 146.2,595.9" fill="url(#hatch)" stroke="#333" stroke-width="0.6"/>
  <polygon points="167.8,597.2 186.1,604.6 186.1,605.6 167.8,605.6" fill="#cdcdcd" stroke="#555" stroke-width="0.4"/>
  <rect x="153.1" y="596.2" width="14.7" height="9.4" fill="#161616" stroke="#111" stroke-width="0.4"/>
  <polygon points="131.4,592.2 138.0,592.2 138.8,596.2 153.1,596.2 153.1,605.6 132.8,605.6 132.8,595.3 131.4,595.3" fill="#d6d6d6" stroke="#444" stroke-width="0.55"/>
  <polygon points="129.8,595.3 132.8,595.3 132.8,603 136.5,603 136.5,605.6 129.8,605.6" fill="#161616"/>
  <rect x="130" y="605.7" width="66.5" height="4.7" fill="#c9c9c9"/>
  <line x1="130" y1="605.9" x2="196.5" y2="605.9" stroke="#555" stroke-width="0.5"/>
  <line x1="130" y1="610.2" x2="196.5" y2="610.2" stroke="#3a3a3a" stroke-width="0.8"/>
  <line x1="196.5" y1="605.7" x2="196.5" y2="610.4" stroke="#666" stroke-width="0.5"/>
  <line x1="91" y1="572.1" x2="169.8" y2="572.1" stroke="#666" stroke-width="0.45"/>
  <line x1="109" y1="583.3" x2="185.5" y2="583.3" stroke="#666" stroke-width="0.45"/>
</g>
<g transform="translate(0,1312.4) scale(1,-1)">
  <rect x="169.8" y="572.1" width="11.8" height="18.3" fill="#fff" stroke="#333" stroke-width="0.7"/>
  <rect x="170.2" y="572.5" width="11" height="4.3" fill="url(#hatchm)" stroke="none"/>
  <line x1="169.8" y1="576.8" x2="181.6" y2="576.8" stroke="#444" stroke-width="0.5"/>
  <polygon points="146.2,590.4 181.6,590.4 188.4,599.2 188.4,604.6 186.1,604.6 167.8,600.4 167.8,596.3 153,596.3 146.2,595.9" fill="url(#hatchm)" stroke="#333" stroke-width="0.6"/>
  <polygon points="167.8,597.2 186.1,604.6 186.1,605.6 167.8,605.6" fill="#cdcdcd" stroke="#555" stroke-width="0.4"/>
  <rect x="153.1" y="596.2" width="14.7" height="9.4" fill="#161616" stroke="#111" stroke-width="0.4"/>
  <polygon points="131.4,592.2 138.0,592.2 138.8,596.2 153.1,596.2 153.1,605.6 132.8,605.6 132.8,595.3 131.4,595.3" fill="#d6d6d6" stroke="#444" stroke-width="0.55"/>
  <polygon points="129.8,595.3 132.8,595.3 132.8,603 136.5,603 136.5,605.6 129.8,605.6" fill="#161616"/>
  <rect x="130" y="605.7" width="66.5" height="4.7" fill="#c9c9c9"/>
  <line x1="130" y1="605.9" x2="196.5" y2="605.9" stroke="#555" stroke-width="0.5"/>
  <line x1="130" y1="610.2" x2="196.5" y2="610.2" stroke="#3a3a3a" stroke-width="0.8"/>
  <line x1="196.5" y1="605.7" x2="196.5" y2="610.4" stroke="#666" stroke-width="0.5"/>
  <line x1="91" y1="572.1" x2="169.8" y2="572.1" stroke="#666" stroke-width="0.45"/>
  <line x1="109" y1="583.3" x2="185.5" y2="583.3" stroke="#666" stroke-width="0.45"/>
</g>
<line x1="130" y1="595" x2="130" y2="780" stroke="#333" stroke-width="0.8"/>
<path d="M196.5,610.4 C196.8,625 196.1,640 196.8,656 C197.3,672 196.3,688 196.6,702" stroke="#555" stroke-width="0.6"/>
<line x1="126" y1="656.2" x2="199" y2="656.2" stroke="#888" stroke-width="0.45" stroke-dasharray="7 1.5 1 1.5"/>
<line x1="93.75" y1="572.1" x2="93.75" y2="740.3" stroke="#555" stroke-width="0.5"/>
<polygon points="93.75,572.1 92.75,577.5 94.75,577.5" fill="#333"/>
<polygon points="93.75,740.3 92.75,734.9 94.75,734.9" fill="#333"/>
<line x1="111.25" y1="583.3" x2="111.25" y2="729.1" stroke="#555" stroke-width="0.5"/>
<polygon points="111.25,583.3 110.25,588.7 112.25,588.7" fill="#333"/>
<polygon points="111.25,729.1 110.25,723.7 112.25,723.7" fill="#333"/>
<text transform="translate(91.5,656.4) rotate(-90)" font-size="9" fill="#333" text-anchor="middle" stroke="none">Ø D</text>
<text transform="translate(107.4,656.4) rotate(-90)" font-size="9" fill="#333" text-anchor="middle" stroke="none">Ø K</text>
<line x1="181.6" y1="741" x2="181.6" y2="760.5" stroke="#666" stroke-width="0.45"/>
<line x1="188.3" y1="708" x2="188.3" y2="779.5" stroke="#666" stroke-width="0.45"/>
<line x1="129.4" y1="758.4" x2="181.6" y2="758.4" stroke="#666" stroke-width="0.45"/>
<polygon points="130,758.4 136,757.5 136,759.3" fill="#333"/>
<polygon points="181.6,758.4 175.6,757.5 175.6,759.3" fill="#333"/>
<line x1="129.4" y1="776.7" x2="188.3" y2="776.7" stroke="#666" stroke-width="0.45"/>
<polygon points="130,776.7 136,775.8 136,777.6" fill="#333"/>
<polygon points="188.3,776.7 182.3,775.8 182.3,777.6" fill="#333"/>
<text x="157.3" y="755.3" font-size="8.2" fill="#333" text-anchor="middle" stroke="none">C</text>
<text x="159" y="775" font-size="8.6" fill="#333" text-anchor="middle" stroke="none">L</text>
</g>

</svg>
</body></html>
